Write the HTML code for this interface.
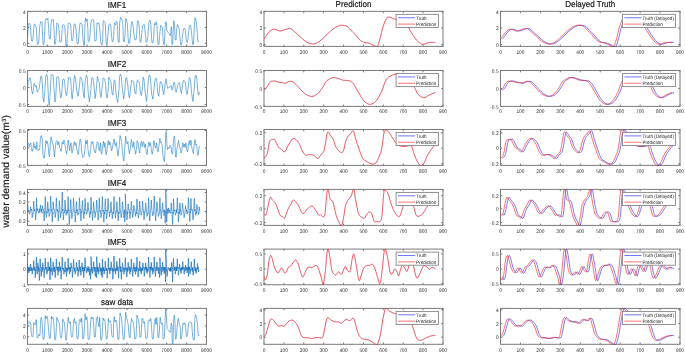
<!DOCTYPE html>
<html><head><meta charset="utf-8"><style>html,body{margin:0;padding:0;background:#fff;overflow:hidden}svg{display:block;will-change:transform}</style></head><body>
<svg width="685" height="353" viewBox="0 0 685 353" font-family="'Liberation Sans', sans-serif" text-rendering="geometricPrecision">
<rect width="685" height="353" fill="#fff"/>
<defs>
<clipPath id="c00"><rect x="27.1" y="10.95" width="179.8" height="35.85"/></clipPath>
<clipPath id="c01"><rect x="27.1" y="70.1" width="179.8" height="36.7"/></clipPath>
<clipPath id="c02"><rect x="27.1" y="129.1" width="179.8" height="36.7"/></clipPath>
<clipPath id="c03"><rect x="27.1" y="189" width="179.8" height="36.8"/></clipPath>
<clipPath id="c04"><rect x="27.1" y="248.7" width="179.8" height="36.45"/></clipPath>
<clipPath id="c05"><rect x="27.1" y="308" width="179.8" height="36.7"/></clipPath>
<clipPath id="c10"><rect x="263.6" y="10.95" width="179.8" height="35.85"/></clipPath>
<clipPath id="c11"><rect x="263.6" y="70.1" width="179.8" height="36.7"/></clipPath>
<clipPath id="c12"><rect x="263.6" y="129.1" width="179.8" height="36.7"/></clipPath>
<clipPath id="c13"><rect x="263.6" y="189" width="179.8" height="36.8"/></clipPath>
<clipPath id="c14"><rect x="263.6" y="248.7" width="179.8" height="36.45"/></clipPath>
<clipPath id="c15"><rect x="263.6" y="308" width="179.8" height="36.7"/></clipPath>
<clipPath id="c20"><rect x="500.1" y="10.95" width="180.3" height="35.85"/></clipPath>
<clipPath id="c21"><rect x="500.1" y="70.1" width="180.3" height="36.7"/></clipPath>
<clipPath id="c22"><rect x="500.1" y="129.1" width="180.3" height="36.7"/></clipPath>
<clipPath id="c23"><rect x="500.1" y="189" width="180.3" height="36.8"/></clipPath>
<clipPath id="c24"><rect x="500.1" y="248.7" width="180.3" height="36.45"/></clipPath>
<clipPath id="c25"><rect x="500.1" y="308" width="180.3" height="36.7"/></clipPath>
</defs>
<g stroke="#404040" stroke-width="0.7"><line x1="27.5" y1="46.4" x2="27.5" y2="44.6"/><line x1="27.5" y1="11.35" x2="27.5" y2="13.15"/><line x1="47.39" y1="46.4" x2="47.39" y2="44.6"/><line x1="47.39" y1="11.35" x2="47.39" y2="13.15"/><line x1="67.28" y1="46.4" x2="67.28" y2="44.6"/><line x1="67.28" y1="11.35" x2="67.28" y2="13.15"/><line x1="87.17" y1="46.4" x2="87.17" y2="44.6"/><line x1="87.17" y1="11.35" x2="87.17" y2="13.15"/><line x1="107.06" y1="46.4" x2="107.06" y2="44.6"/><line x1="107.06" y1="11.35" x2="107.06" y2="13.15"/><line x1="126.94" y1="46.4" x2="126.94" y2="44.6"/><line x1="126.94" y1="11.35" x2="126.94" y2="13.15"/><line x1="146.83" y1="46.4" x2="146.83" y2="44.6"/><line x1="146.83" y1="11.35" x2="146.83" y2="13.15"/><line x1="166.72" y1="46.4" x2="166.72" y2="44.6"/><line x1="166.72" y1="11.35" x2="166.72" y2="13.15"/><line x1="186.61" y1="46.4" x2="186.61" y2="44.6"/><line x1="186.61" y1="11.35" x2="186.61" y2="13.15"/><line x1="206.5" y1="46.4" x2="206.5" y2="44.6"/><line x1="206.5" y1="11.35" x2="206.5" y2="13.15"/><line x1="27.5" y1="43.4" x2="29.3" y2="43.4"/><line x1="206.5" y1="43.4" x2="204.7" y2="43.4"/><line x1="27.5" y1="27.4" x2="29.3" y2="27.4"/><line x1="206.5" y1="27.4" x2="204.7" y2="27.4"/><line x1="27.5" y1="11.35" x2="29.3" y2="11.35"/><line x1="206.5" y1="11.35" x2="204.7" y2="11.35"/></g>
<rect x="27.5" y="11.35" width="179" height="35.05" fill="none" stroke="#7a7a7a" stroke-width="1"/>
<text transform="translate(27.5,54.15) scale(1,1.08)" font-size="4.85" fill="#303030" text-anchor="middle">0</text><text transform="translate(47.39,54.15) scale(1,1.08)" font-size="4.85" fill="#303030" text-anchor="middle">1000</text><text transform="translate(67.28,54.15) scale(1,1.08)" font-size="4.85" fill="#303030" text-anchor="middle">2000</text><text transform="translate(87.17,54.15) scale(1,1.08)" font-size="4.85" fill="#303030" text-anchor="middle">3000</text><text transform="translate(107.06,54.15) scale(1,1.08)" font-size="4.85" fill="#303030" text-anchor="middle">4000</text><text transform="translate(126.94,54.15) scale(1,1.08)" font-size="4.85" fill="#303030" text-anchor="middle">5000</text><text transform="translate(146.83,54.15) scale(1,1.08)" font-size="4.85" fill="#303030" text-anchor="middle">6000</text><text transform="translate(166.72,54.15) scale(1,1.08)" font-size="4.85" fill="#303030" text-anchor="middle">7000</text><text transform="translate(186.61,54.15) scale(1,1.08)" font-size="4.85" fill="#303030" text-anchor="middle">8000</text><text transform="translate(206.5,54.15) scale(1,1.08)" font-size="4.85" fill="#303030" text-anchor="middle">9000</text><text transform="translate(25.6,45.55) scale(1,1.08)" font-size="4.85" fill="#303030" text-anchor="end">0</text><text transform="translate(25.6,29.55) scale(1,1.08)" font-size="4.85" fill="#303030" text-anchor="end">2</text><text transform="translate(25.6,13.5) scale(1,1.08)" font-size="4.85" fill="#303030" text-anchor="end">4</text>
<g clip-path="url(#c00)"><path d="M27.6,36.6 L28.4,23.9 L29.5,23.4 L30.4,25.6 L31.3,38.8 L31.7,41 L32.5,41 L32.9,39.9 L34,25.6 L34.6,23.9 L35.4,26.1 L36.2,26.7 L37,39.9 L37.3,44.4 L38,44.4 L38.7,42.1 L39.8,25.6 L40.9,21.2 L42,22.3 L42.8,39.9 L43.15,44.6 L43.85,44.6 L44.2,41 L45.3,19.5 L46.1,18.4 L46.6,19.5 L47.4,19.5 L47.9,18.4 L48.7,28.9 L49.2,38.3 L49.7,38.8 L50.5,38.8 L50.9,25.6 L51.6,19.5 L52.1,20 L52.9,20 L53.4,19.5 L54.2,34.4 L54.6,44.1 L55.4,44.1 L55.8,41 L56.9,22.8 L58,23.9 L58.9,27.8 L59.7,39.9 L60.1,42.1 L60.9,42.1 L61.4,41 L62.5,25 L63.6,24.5 L64.7,25.6 L65.6,38.8 L65.95,46 L66.7,46 L67.1,41 L68.2,23.4 L69.1,23.1 L70,23.4 L70.8,25.6 L71.5,38.8 L71.85,40.5 L72.6,40.5 L73,38.8 L74.1,23.9 L75.2,24.5 L76,28.9 L77,42.1 L77.35,43.8 L78.1,43.8 L78.5,40 L79.9,23.4 L81.2,23.1 L82.1,24.5 L82.9,37.7 L83.6,45 L84.4,45 L85.1,20 L85.7,17.8 L86.05,21.2 L86.75,21.2 L87.1,19 L87.9,30 L88.15,41.6 L88.8,41.6 L89.5,41 L90.6,25.6 L91.5,20 L92.8,19.5 L93.7,20 L94.5,36.6 L94.9,41 L95.7,41 L96.2,40 L97,22.8 L97.7,23.4 L98.5,23.4 L98.9,22.8 L99.7,28.9 L100.8,42.1 L101.3,44.9 L102.1,44.9 L102.6,41 L103.3,20.6 L104.4,21.7 L105.2,22.8 L105.9,37.7 L106.3,44.4 L107.1,44.4 L107.8,36.6 L108.9,24.5 L110,23.9 L110.7,24.5 L111.6,36.6 L112.1,41.6 L112.9,41.6 L113.4,40 L114.4,22.8 L115.1,24.5 L115.9,24.5 L116.3,21.2 L117.2,22.3 L118,39.9 L118.4,42.1 L119.2,42.1 L119.6,23.4 L120.5,17 L121.6,19 L122.7,21.2 L123.4,39.9 L123.7,41.6 L124.4,41.6 L124.9,36.6 L125.8,18.4 L126.5,20 L127.3,23.4 L128,36.6 L128.7,43.3 L129.5,43.3 L130.2,38.8 L131.3,22.3 L132.4,21.7 L133.3,27.8 L134.3,37.7 L135,39.9 L135.8,39.9 L136.5,37.7 L137.4,20.6 L138.4,21.2 L139,23.9 L139.8,38.8 L140.2,42.1 L141,42.1 L141.7,34.4 L142.6,25.6 L143.7,24.5 L144.2,24.5 L145.1,31.1 L145.9,41 L146.25,42.1 L147,42.1 L147.7,37.7 L148.9,22.3 L150,20 L150.8,24.5 L151.7,39.9 L152.1,42.7 L152.9,42.7 L153.6,38.8 L154.4,23.4 L154.9,24.5 L155.7,24.5 L156.1,21.7 L156.9,25.6 L157.7,41 L158.2,44.4 L159,44.4 L159.5,36.6 L160.6,25.6 L161.7,26.1 L162.4,27.8 L163.2,39.9 L163.55,44.4 L164.3,44.4 L164.7,37.7 L165.4,22.3 L166.3,21.7 L166.9,31.1 L168,32.2 L169.1,33.3 L169.8,35.5 L170.6,35.5 L171,27.8 L171.6,26.7 L171.95,44.4 L172.7,44.4 L173.2,31.1 L173.8,20.6 L174.6,25.6 L175.1,38.8 L175.4,40 L176.1,40 L176.5,31.1 L177.4,24.5 L178.5,26.7 L179.3,28.9 L180.1,39.9 L180.8,44.9 L181.6,44.9 L182.3,37.7 L183.4,28.9 L184.5,28.3 L185.3,30 L186.2,39.9 L186.7,42.1 L187.5,42.1 L188.2,36.6 L189.3,26.7 L190.3,25 L191.2,28.9 L192.3,41 L192.65,44.4 L193.4,44.4 L193.9,36.6 L194.8,17.8 L195.9,19 L196.7,25.6 L197.6,38.8 L198,41.6 L198.8,41.6 L199.2,41" fill="none" stroke="#3089cb" stroke-width="0.65" stroke-linejoin="round"/></g>
<g stroke="#404040" stroke-width="0.7"><line x1="264" y1="46.4" x2="264" y2="44.6"/><line x1="264" y1="11.35" x2="264" y2="13.15"/><line x1="283.89" y1="46.4" x2="283.89" y2="44.6"/><line x1="283.89" y1="11.35" x2="283.89" y2="13.15"/><line x1="303.78" y1="46.4" x2="303.78" y2="44.6"/><line x1="303.78" y1="11.35" x2="303.78" y2="13.15"/><line x1="323.67" y1="46.4" x2="323.67" y2="44.6"/><line x1="323.67" y1="11.35" x2="323.67" y2="13.15"/><line x1="343.56" y1="46.4" x2="343.56" y2="44.6"/><line x1="343.56" y1="11.35" x2="343.56" y2="13.15"/><line x1="363.44" y1="46.4" x2="363.44" y2="44.6"/><line x1="363.44" y1="11.35" x2="363.44" y2="13.15"/><line x1="383.33" y1="46.4" x2="383.33" y2="44.6"/><line x1="383.33" y1="11.35" x2="383.33" y2="13.15"/><line x1="403.22" y1="46.4" x2="403.22" y2="44.6"/><line x1="403.22" y1="11.35" x2="403.22" y2="13.15"/><line x1="423.11" y1="46.4" x2="423.11" y2="44.6"/><line x1="423.11" y1="11.35" x2="423.11" y2="13.15"/><line x1="443" y1="46.4" x2="443" y2="44.6"/><line x1="443" y1="11.35" x2="443" y2="13.15"/><line x1="264" y1="44.6" x2="265.8" y2="44.6"/><line x1="443" y1="44.6" x2="441.2" y2="44.6"/><line x1="264" y1="28" x2="265.8" y2="28"/><line x1="443" y1="28" x2="441.2" y2="28"/><line x1="264" y1="11.35" x2="265.8" y2="11.35"/><line x1="443" y1="11.35" x2="441.2" y2="11.35"/></g>
<rect x="264" y="11.35" width="179" height="35.05" fill="none" stroke="#7a7a7a" stroke-width="1"/>
<text transform="translate(264,54.15) scale(1,1.08)" font-size="4.85" fill="#303030" text-anchor="middle">0</text><text transform="translate(283.89,54.15) scale(1,1.08)" font-size="4.85" fill="#303030" text-anchor="middle">100</text><text transform="translate(303.78,54.15) scale(1,1.08)" font-size="4.85" fill="#303030" text-anchor="middle">200</text><text transform="translate(323.67,54.15) scale(1,1.08)" font-size="4.85" fill="#303030" text-anchor="middle">300</text><text transform="translate(343.56,54.15) scale(1,1.08)" font-size="4.85" fill="#303030" text-anchor="middle">400</text><text transform="translate(363.44,54.15) scale(1,1.08)" font-size="4.85" fill="#303030" text-anchor="middle">500</text><text transform="translate(383.33,54.15) scale(1,1.08)" font-size="4.85" fill="#303030" text-anchor="middle">600</text><text transform="translate(403.22,54.15) scale(1,1.08)" font-size="4.85" fill="#303030" text-anchor="middle">700</text><text transform="translate(423.11,54.15) scale(1,1.08)" font-size="4.85" fill="#303030" text-anchor="middle">800</text><text transform="translate(443,54.15) scale(1,1.08)" font-size="4.85" fill="#303030" text-anchor="middle">900</text><text transform="translate(262.1,46.75) scale(1,1.08)" font-size="4.85" fill="#303030" text-anchor="end">0</text><text transform="translate(262.1,30.15) scale(1,1.08)" font-size="4.85" fill="#303030" text-anchor="end">2</text><text transform="translate(262.1,13.5) scale(1,1.08)" font-size="4.85" fill="#303030" text-anchor="end">4</text>
<g clip-path="url(#c10)"><path d="M264,39.2 C264.42,38.58 265.5,36.83 266.5,35.5 C267.5,34.17 268.88,32.25 270,31.2 C271.12,30.15 272.12,29.43 273.2,29.2 C274.28,28.97 275.35,29.48 276.5,29.8 C277.65,30.12 278.85,31.07 280.1,31.1 C281.35,31.13 282.47,30.45 284,30 C285.53,29.55 287.97,28.48 289.3,28.4 C290.63,28.32 290.88,28.73 292,29.5 C293.12,30.27 294.62,31.77 296,33 C297.38,34.23 298.8,35.57 300.3,36.9 C301.8,38.23 303.55,39.95 305,41 C306.45,42.05 307.77,42.7 309,43.2 C310.23,43.7 311.23,43.97 312.4,44 C313.57,44.03 314.82,43.85 316,43.4 C317.18,42.95 318.32,42.17 319.5,41.3 C320.68,40.43 321.68,39.5 323.1,38.2 C324.52,36.9 326.43,34.95 328,33.5 C329.57,32.05 331,30.67 332.5,29.5 C334,28.33 335.55,27.22 337,26.5 C338.45,25.78 339.97,25.37 341.2,25.2 C342.43,25.03 343.35,25.28 344.4,25.5 C345.45,25.72 346.63,25.93 347.5,26.5 C348.37,27.07 348.37,27.62 349.6,28.9 C350.83,30.18 353.28,32.45 354.9,34.2 C356.52,35.95 357.83,38.03 359.3,39.4 C360.77,40.77 362.25,41.82 363.7,42.4 C365.15,42.98 366.7,42.58 368,42.9 C369.3,43.22 370.18,43.68 371.5,44.3 C372.82,44.92 374.87,46.33 375.9,46.6 C376.93,46.87 376.97,47.38 377.7,45.9 C378.43,44.42 379.43,40.82 380.3,37.7 C381.17,34.58 381.88,30.42 382.9,27.2 C383.92,23.98 385.32,20.1 386.4,18.4 C387.48,16.7 388.37,17 389.4,17 C390.43,17 391.48,17.97 392.6,18.4 C393.72,18.83 394.87,19.25 396.1,19.6 C397.33,19.95 398.68,20.02 400,20.5 C401.32,20.98 402.62,21.33 404,22.5 C405.38,23.67 407,25.7 408.3,27.5 C409.6,29.3 410.77,31.68 411.8,33.3 C412.83,34.92 413.62,35.98 414.5,37.2 C415.38,38.42 416.03,39.5 417.1,40.6 C418.17,41.7 419.73,43.22 420.9,43.8 C422.07,44.38 422.98,44.25 424.1,44.1 C425.22,43.95 426.43,43.18 427.6,42.9 C428.77,42.62 429.78,42.48 431.1,42.4 C432.42,42.32 434.77,42.4 435.5,42.4" fill="none" stroke="#8080ff" stroke-width="0.3" opacity="0.6"/><path d="M264,39.2 C264.42,38.58 265.5,36.83 266.5,35.5 C267.5,34.17 268.88,32.25 270,31.2 C271.12,30.15 272.12,29.43 273.2,29.2 C274.28,28.97 275.35,29.48 276.5,29.8 C277.65,30.12 278.85,31.07 280.1,31.1 C281.35,31.13 282.47,30.45 284,30 C285.53,29.55 287.97,28.48 289.3,28.4 C290.63,28.32 290.88,28.73 292,29.5 C293.12,30.27 294.62,31.77 296,33 C297.38,34.23 298.8,35.57 300.3,36.9 C301.8,38.23 303.55,39.95 305,41 C306.45,42.05 307.77,42.7 309,43.2 C310.23,43.7 311.23,43.97 312.4,44 C313.57,44.03 314.82,43.85 316,43.4 C317.18,42.95 318.32,42.17 319.5,41.3 C320.68,40.43 321.68,39.5 323.1,38.2 C324.52,36.9 326.43,34.95 328,33.5 C329.57,32.05 331,30.67 332.5,29.5 C334,28.33 335.55,27.22 337,26.5 C338.45,25.78 339.97,25.37 341.2,25.2 C342.43,25.03 343.35,25.28 344.4,25.5 C345.45,25.72 346.63,25.93 347.5,26.5 C348.37,27.07 348.37,27.62 349.6,28.9 C350.83,30.18 353.28,32.45 354.9,34.2 C356.52,35.95 357.83,38.03 359.3,39.4 C360.77,40.77 362.25,41.82 363.7,42.4 C365.15,42.98 366.7,42.58 368,42.9 C369.3,43.22 370.18,43.68 371.5,44.3 C372.82,44.92 374.87,46.33 375.9,46.6 C376.93,46.87 376.97,47.38 377.7,45.9 C378.43,44.42 379.43,40.82 380.3,37.7 C381.17,34.58 381.88,30.42 382.9,27.2 C383.92,23.98 385.32,20.1 386.4,18.4 C387.48,16.7 388.37,17 389.4,17 C390.43,17 391.48,17.97 392.6,18.4 C393.72,18.83 394.87,19.25 396.1,19.6 C397.33,19.95 398.68,20.02 400,20.5 C401.32,20.98 402.62,21.33 404,22.5 C405.38,23.67 407,25.7 408.3,27.5 C409.6,29.3 410.77,31.68 411.8,33.3 C412.83,34.92 413.62,35.98 414.5,37.2 C415.38,38.42 416.03,39.5 417.1,40.6 C418.17,41.7 419.73,43.22 420.9,43.8 C422.07,44.38 422.98,44.25 424.1,44.1 C425.22,43.95 426.43,43.18 427.6,42.9 C428.77,42.62 429.78,42.48 431.1,42.4 C432.42,42.32 434.77,42.4 435.5,42.4" fill="none" stroke="#f42424" stroke-width="0.7"/></g>
<rect x="396.1" y="14.35" width="42.3" height="13.1" fill="#fff" stroke="#808080" stroke-width="0.85"/>
<line x1="398" y1="17.75" x2="415.1" y2="17.75" stroke="#3a3af5" stroke-width="0.7"/>
<text transform="translate(416.1,19.5) scale(1,1.08)" font-size="4.55" fill="#222">Truth</text>
<line x1="398" y1="24.1" x2="415.1" y2="24.1" stroke="#f03a3a" stroke-width="0.7"/>
<text transform="translate(416.1,25.85) scale(1,1.08)" font-size="4.55" fill="#222">Prediction</text>
<g stroke="#404040" stroke-width="0.7"><line x1="500.5" y1="46.4" x2="500.5" y2="44.6"/><line x1="500.5" y1="11.35" x2="500.5" y2="13.15"/><line x1="520.44" y1="46.4" x2="520.44" y2="44.6"/><line x1="520.44" y1="11.35" x2="520.44" y2="13.15"/><line x1="540.39" y1="46.4" x2="540.39" y2="44.6"/><line x1="540.39" y1="11.35" x2="540.39" y2="13.15"/><line x1="560.33" y1="46.4" x2="560.33" y2="44.6"/><line x1="560.33" y1="11.35" x2="560.33" y2="13.15"/><line x1="580.28" y1="46.4" x2="580.28" y2="44.6"/><line x1="580.28" y1="11.35" x2="580.28" y2="13.15"/><line x1="600.22" y1="46.4" x2="600.22" y2="44.6"/><line x1="600.22" y1="11.35" x2="600.22" y2="13.15"/><line x1="620.17" y1="46.4" x2="620.17" y2="44.6"/><line x1="620.17" y1="11.35" x2="620.17" y2="13.15"/><line x1="640.11" y1="46.4" x2="640.11" y2="44.6"/><line x1="640.11" y1="11.35" x2="640.11" y2="13.15"/><line x1="660.06" y1="46.4" x2="660.06" y2="44.6"/><line x1="660.06" y1="11.35" x2="660.06" y2="13.15"/><line x1="680" y1="46.4" x2="680" y2="44.6"/><line x1="680" y1="11.35" x2="680" y2="13.15"/><line x1="500.5" y1="44.6" x2="502.3" y2="44.6"/><line x1="680" y1="44.6" x2="678.2" y2="44.6"/><line x1="500.5" y1="28" x2="502.3" y2="28"/><line x1="680" y1="28" x2="678.2" y2="28"/><line x1="500.5" y1="11.35" x2="502.3" y2="11.35"/><line x1="680" y1="11.35" x2="678.2" y2="11.35"/></g>
<rect x="500.5" y="11.35" width="179.5" height="35.05" fill="none" stroke="#7a7a7a" stroke-width="1"/>
<text transform="translate(500.5,54.15) scale(1,1.08)" font-size="4.85" fill="#303030" text-anchor="middle">0</text><text transform="translate(520.44,54.15) scale(1,1.08)" font-size="4.85" fill="#303030" text-anchor="middle">100</text><text transform="translate(540.39,54.15) scale(1,1.08)" font-size="4.85" fill="#303030" text-anchor="middle">200</text><text transform="translate(560.33,54.15) scale(1,1.08)" font-size="4.85" fill="#303030" text-anchor="middle">300</text><text transform="translate(580.28,54.15) scale(1,1.08)" font-size="4.85" fill="#303030" text-anchor="middle">400</text><text transform="translate(600.22,54.15) scale(1,1.08)" font-size="4.85" fill="#303030" text-anchor="middle">500</text><text transform="translate(620.17,54.15) scale(1,1.08)" font-size="4.85" fill="#303030" text-anchor="middle">600</text><text transform="translate(640.11,54.15) scale(1,1.08)" font-size="4.85" fill="#303030" text-anchor="middle">700</text><text transform="translate(660.06,54.15) scale(1,1.08)" font-size="4.85" fill="#303030" text-anchor="middle">800</text><text transform="translate(680,54.15) scale(1,1.08)" font-size="4.85" fill="#303030" text-anchor="middle">900</text><text transform="translate(498.6,46.75) scale(1,1.08)" font-size="4.85" fill="#303030" text-anchor="end">0</text><text transform="translate(498.6,30.15) scale(1,1.08)" font-size="4.85" fill="#303030" text-anchor="end">2</text><text transform="translate(498.6,13.5) scale(1,1.08)" font-size="4.85" fill="#303030" text-anchor="end">4</text>
<g clip-path="url(#c20)"><path d="M502.5,39.2 C502.92,38.58 504,36.83 505,35.5 C506,34.17 507.38,32.25 508.5,31.2 C509.62,30.15 510.62,29.43 511.7,29.2 C512.78,28.97 513.85,29.48 515,29.8 C516.15,30.12 517.35,31.07 518.6,31.1 C519.85,31.13 520.97,30.45 522.5,30 C524.03,29.55 526.47,28.48 527.8,28.4 C529.13,28.32 529.38,28.73 530.5,29.5 C531.62,30.27 533.12,31.77 534.5,33 C535.88,34.23 537.3,35.57 538.8,36.9 C540.3,38.23 542.05,39.95 543.5,41 C544.95,42.05 546.27,42.7 547.5,43.2 C548.73,43.7 549.73,43.97 550.9,44 C552.07,44.03 553.32,43.85 554.5,43.4 C555.68,42.95 556.82,42.17 558,41.3 C559.18,40.43 560.18,39.5 561.6,38.2 C563.02,36.9 564.93,34.95 566.5,33.5 C568.07,32.05 569.5,30.67 571,29.5 C572.5,28.33 574.05,27.22 575.5,26.5 C576.95,25.78 578.47,25.37 579.7,25.2 C580.93,25.03 581.85,25.28 582.9,25.5 C583.95,25.72 585.13,25.93 586,26.5 C586.87,27.07 586.87,27.62 588.1,28.9 C589.33,30.18 591.78,32.45 593.4,34.2 C595.02,35.95 596.33,38.03 597.8,39.4 C599.27,40.77 600.75,41.82 602.2,42.4 C603.65,42.98 605.2,42.58 606.5,42.9 C607.8,43.22 608.68,43.68 610,44.3 C611.32,44.92 613.37,46.33 614.4,46.6 C615.43,46.87 615.47,47.38 616.2,45.9 C616.93,44.42 617.93,40.82 618.8,37.7 C619.67,34.58 620.38,30.42 621.4,27.2 C622.42,23.98 623.82,20.1 624.9,18.4 C625.98,16.7 626.87,17 627.9,17 C628.93,17 629.98,17.97 631.1,18.4 C632.22,18.83 633.37,19.25 634.6,19.6 C635.83,19.95 637.18,20.02 638.5,20.5 C639.82,20.98 641.12,21.33 642.5,22.5 C643.88,23.67 645.5,25.7 646.8,27.5 C648.1,29.3 649.27,31.68 650.3,33.3 C651.33,34.92 652.12,35.98 653,37.2 C653.88,38.42 654.53,39.5 655.6,40.6 C656.67,41.7 658.23,43.22 659.4,43.8 C660.57,44.38 661.48,44.25 662.6,44.1 C663.72,43.95 664.93,43.18 666.1,42.9 C667.27,42.62 668.28,42.48 669.6,42.4 C670.92,42.32 673.27,42.4 674,42.4" fill="none" stroke="#3434f4" stroke-width="0.66"/><path d="M500.5,39.2 C500.92,38.58 502,36.83 503,35.5 C504,34.17 505.38,32.25 506.5,31.2 C507.62,30.15 508.62,29.43 509.7,29.2 C510.78,28.97 511.85,29.48 513,29.8 C514.15,30.12 515.35,31.07 516.6,31.1 C517.85,31.13 518.97,30.45 520.5,30 C522.03,29.55 524.47,28.48 525.8,28.4 C527.13,28.32 527.38,28.73 528.5,29.5 C529.62,30.27 531.12,31.77 532.5,33 C533.88,34.23 535.3,35.57 536.8,36.9 C538.3,38.23 540.05,39.95 541.5,41 C542.95,42.05 544.27,42.7 545.5,43.2 C546.73,43.7 547.73,43.97 548.9,44 C550.07,44.03 551.32,43.85 552.5,43.4 C553.68,42.95 554.82,42.17 556,41.3 C557.18,40.43 558.18,39.5 559.6,38.2 C561.02,36.9 562.93,34.95 564.5,33.5 C566.07,32.05 567.5,30.67 569,29.5 C570.5,28.33 572.05,27.22 573.5,26.5 C574.95,25.78 576.47,25.37 577.7,25.2 C578.93,25.03 579.85,25.28 580.9,25.5 C581.95,25.72 583.13,25.93 584,26.5 C584.87,27.07 584.87,27.62 586.1,28.9 C587.33,30.18 589.78,32.45 591.4,34.2 C593.02,35.95 594.33,38.03 595.8,39.4 C597.27,40.77 598.75,41.82 600.2,42.4 C601.65,42.98 603.2,42.58 604.5,42.9 C605.8,43.22 606.68,43.68 608,44.3 C609.32,44.92 611.37,46.33 612.4,46.6 C613.43,46.87 613.47,47.38 614.2,45.9 C614.93,44.42 615.93,40.82 616.8,37.7 C617.67,34.58 618.38,30.42 619.4,27.2 C620.42,23.98 621.82,20.1 622.9,18.4 C623.98,16.7 624.87,17 625.9,17 C626.93,17 627.98,17.97 629.1,18.4 C630.22,18.83 631.37,19.25 632.6,19.6 C633.83,19.95 635.18,20.02 636.5,20.5 C637.82,20.98 639.12,21.33 640.5,22.5 C641.88,23.67 643.5,25.7 644.8,27.5 C646.1,29.3 647.27,31.68 648.3,33.3 C649.33,34.92 650.12,35.98 651,37.2 C651.88,38.42 652.53,39.5 653.6,40.6 C654.67,41.7 656.23,43.22 657.4,43.8 C658.57,44.38 659.48,44.25 660.6,44.1 C661.72,43.95 662.93,43.18 664.1,42.9 C665.27,42.62 666.28,42.48 667.6,42.4 C668.92,42.32 671.27,42.4 672,42.4" fill="none" stroke="#f42424" stroke-width="0.66"/></g>
<rect x="622.5" y="14.35" width="52.9" height="13.1" fill="#fff" stroke="#808080" stroke-width="0.85"/>
<line x1="624.4" y1="17.75" x2="641.5" y2="17.75" stroke="#3a3af5" stroke-width="0.7"/>
<text transform="translate(642.5,19.5) scale(1,1.08)" font-size="4.55" fill="#222">Truth (Delayed)</text>
<line x1="624.4" y1="24.1" x2="641.5" y2="24.1" stroke="#f03a3a" stroke-width="0.7"/>
<text transform="translate(642.5,25.85) scale(1,1.08)" font-size="4.55" fill="#222">Prediction</text>
<g stroke="#404040" stroke-width="0.7"><line x1="27.5" y1="106.4" x2="27.5" y2="104.6"/><line x1="27.5" y1="70.5" x2="27.5" y2="72.3"/><line x1="47.39" y1="106.4" x2="47.39" y2="104.6"/><line x1="47.39" y1="70.5" x2="47.39" y2="72.3"/><line x1="67.28" y1="106.4" x2="67.28" y2="104.6"/><line x1="67.28" y1="70.5" x2="67.28" y2="72.3"/><line x1="87.17" y1="106.4" x2="87.17" y2="104.6"/><line x1="87.17" y1="70.5" x2="87.17" y2="72.3"/><line x1="107.06" y1="106.4" x2="107.06" y2="104.6"/><line x1="107.06" y1="70.5" x2="107.06" y2="72.3"/><line x1="126.94" y1="106.4" x2="126.94" y2="104.6"/><line x1="126.94" y1="70.5" x2="126.94" y2="72.3"/><line x1="146.83" y1="106.4" x2="146.83" y2="104.6"/><line x1="146.83" y1="70.5" x2="146.83" y2="72.3"/><line x1="166.72" y1="106.4" x2="166.72" y2="104.6"/><line x1="166.72" y1="70.5" x2="166.72" y2="72.3"/><line x1="186.61" y1="106.4" x2="186.61" y2="104.6"/><line x1="186.61" y1="70.5" x2="186.61" y2="72.3"/><line x1="206.5" y1="106.4" x2="206.5" y2="104.6"/><line x1="206.5" y1="70.5" x2="206.5" y2="72.3"/><line x1="27.5" y1="104.5" x2="29.3" y2="104.5"/><line x1="206.5" y1="104.5" x2="204.7" y2="104.5"/><line x1="27.5" y1="87.5" x2="29.3" y2="87.5"/><line x1="206.5" y1="87.5" x2="204.7" y2="87.5"/><line x1="27.5" y1="70.5" x2="29.3" y2="70.5"/><line x1="206.5" y1="70.5" x2="204.7" y2="70.5"/></g>
<rect x="27.5" y="70.5" width="179" height="35.9" fill="none" stroke="#7a7a7a" stroke-width="1"/>
<text transform="translate(27.5,113.3) scale(1,1.08)" font-size="4.85" fill="#303030" text-anchor="middle">0</text><text transform="translate(47.39,113.3) scale(1,1.08)" font-size="4.85" fill="#303030" text-anchor="middle">1000</text><text transform="translate(67.28,113.3) scale(1,1.08)" font-size="4.85" fill="#303030" text-anchor="middle">2000</text><text transform="translate(87.17,113.3) scale(1,1.08)" font-size="4.85" fill="#303030" text-anchor="middle">3000</text><text transform="translate(107.06,113.3) scale(1,1.08)" font-size="4.85" fill="#303030" text-anchor="middle">4000</text><text transform="translate(126.94,113.3) scale(1,1.08)" font-size="4.85" fill="#303030" text-anchor="middle">5000</text><text transform="translate(146.83,113.3) scale(1,1.08)" font-size="4.85" fill="#303030" text-anchor="middle">6000</text><text transform="translate(166.72,113.3) scale(1,1.08)" font-size="4.85" fill="#303030" text-anchor="middle">7000</text><text transform="translate(186.61,113.3) scale(1,1.08)" font-size="4.85" fill="#303030" text-anchor="middle">8000</text><text transform="translate(206.5,113.3) scale(1,1.08)" font-size="4.85" fill="#303030" text-anchor="middle">9000</text><text transform="translate(25.6,106.65) scale(1,1.08)" font-size="4.85" fill="#303030" text-anchor="end">-0.5</text><text transform="translate(25.6,89.65) scale(1,1.08)" font-size="4.85" fill="#303030" text-anchor="end">0</text><text transform="translate(25.6,72.65) scale(1,1.08)" font-size="4.85" fill="#303030" text-anchor="end">0.5</text>
<g clip-path="url(#c01)"><path d="M27.4,90.6 L28,82.7 L29.2,78.8 L30,77.6 L30.8,80.5 L31.7,90.6 L32.6,94 L33.4,89.5 L34.2,83.3 L34.8,85 L35.6,86.7 L36.2,85.5 L36.8,89.5 L37.3,92.3 L38.2,90.1 L39,89.5 L39.8,83.8 L40.7,76.5 L41.6,75.9 L42.4,85 L43,98.6 L43.8,102 L44.7,92.9 L45.8,75.9 L46.7,74.2 L47.5,77.1 L48.4,97.4 L49.2,105.4 L50.1,94 L51.1,75.4 L52,74.2 L53.2,76.5 L54.1,90.6 L54.9,102 L55.7,97.4 L56.8,77.1 L57.9,76.5 L58.8,78.2 L59.7,90.6 L60.9,98 L61.7,94 L62.8,79.3 L63.7,78.8 L64.5,80.5 L65.4,90.6 L66.5,95.7 L67.3,90.6 L68.5,77.6 L69.6,77.1 L70.7,79.3 L71.5,94 L72.2,99.1 L73.3,88.4 L74.5,75.4 L75.6,78.2 L76.7,90.6 L78.1,96.3 L79.2,88.4 L80.3,77.1 L81.5,78.2 L82.4,82.7 L83.5,95.2 L84.3,98 L85.1,81.6 L86.3,75.4 L87.2,77.1 L88.3,94 L89.4,102 L90.6,92.9 L91.7,78.2 L92.8,77.6 L94,86.1 L95.1,98.6 L96.2,90.6 L97.4,76.5 L98.5,80.5 L99.3,82.2 L100.1,92.9 L101,97.4 L102.1,88.4 L103.2,78.2 L104.4,78.8 L105.5,82.7 L106.4,96.3 L107.2,98 L108,90.6 L108.9,77.1 L110,79.3 L110.9,81.6 L112.1,94 L112.9,95.2 L113.7,85 L114.3,79.9 L115.1,81.6 L115.9,92.9 L116.8,98.6 L117.7,102.5 L118.9,90.6 L119.7,75.9 L120.5,74.2 L121.4,77.1 L122.5,90.6 L123.6,99.1 L124.8,90.6 L125.7,78.2 L126.6,77.6 L127.6,83.8 L128.7,95.2 L129.5,98 L130.4,90.6 L131.5,80.5 L132.9,81 L133.8,82.7 L134.9,92.9 L135.9,94 L136.6,85 L137.4,79.9 L138.6,81 L139.5,83.8 L140.6,94 L141.5,95.7 L142.6,85 L143.1,77.1 L144,79.3 L145.2,92.9 L146.5,101.4 L147.4,92.9 L148.6,77.1 L149.5,74.8 L150.5,78.2 L151.6,94 L152.8,99.1 L153.9,90.6 L155,79.3 L156.2,78.2 L156.9,81.6 L157.8,94 L158.8,96.3 L159.5,88.4 L160.3,81.6 L161.2,82.2 L162.2,83.8 L162.9,90.6 L163.7,94.6 L164.6,88.4 L165.5,80.5 L166.1,78.8 L166.9,85 L167.8,88.4 L168.9,87.2 L170.1,86.7 L171.2,85.5 L172,90.1 L172.8,88.4 L173.7,82.7 L174.6,82.2 L175.4,90.6 L176.2,92.3 L177.1,88.4 L178,83.8 L178.8,83.3 L179.6,82.7 L180.5,89.5 L181.4,93.5 L182.1,88.4 L183.3,80.5 L184.5,81 L185.2,81.6 L186.2,90.6 L187.1,94.6 L188.2,87.2 L189.3,77.6 L190.5,79.3 L191.6,92.9 L192.9,101.4 L194.1,90.6 L195.2,75.4 L196.3,75.9 L197.2,82.7 L198,94 L198.6,95.2 L199.5,91.8" fill="none" stroke="#3089cb" stroke-width="0.65" stroke-linejoin="round"/></g>
<g stroke="#404040" stroke-width="0.7"><line x1="264" y1="106.4" x2="264" y2="104.6"/><line x1="264" y1="70.5" x2="264" y2="72.3"/><line x1="283.89" y1="106.4" x2="283.89" y2="104.6"/><line x1="283.89" y1="70.5" x2="283.89" y2="72.3"/><line x1="303.78" y1="106.4" x2="303.78" y2="104.6"/><line x1="303.78" y1="70.5" x2="303.78" y2="72.3"/><line x1="323.67" y1="106.4" x2="323.67" y2="104.6"/><line x1="323.67" y1="70.5" x2="323.67" y2="72.3"/><line x1="343.56" y1="106.4" x2="343.56" y2="104.6"/><line x1="343.56" y1="70.5" x2="343.56" y2="72.3"/><line x1="363.44" y1="106.4" x2="363.44" y2="104.6"/><line x1="363.44" y1="70.5" x2="363.44" y2="72.3"/><line x1="383.33" y1="106.4" x2="383.33" y2="104.6"/><line x1="383.33" y1="70.5" x2="383.33" y2="72.3"/><line x1="403.22" y1="106.4" x2="403.22" y2="104.6"/><line x1="403.22" y1="70.5" x2="403.22" y2="72.3"/><line x1="423.11" y1="106.4" x2="423.11" y2="104.6"/><line x1="423.11" y1="70.5" x2="423.11" y2="72.3"/><line x1="443" y1="106.4" x2="443" y2="104.6"/><line x1="443" y1="70.5" x2="443" y2="72.3"/><line x1="264" y1="106.4" x2="265.8" y2="106.4"/><line x1="443" y1="106.4" x2="441.2" y2="106.4"/><line x1="264" y1="88.45" x2="265.8" y2="88.45"/><line x1="443" y1="88.45" x2="441.2" y2="88.45"/><line x1="264" y1="70.5" x2="265.8" y2="70.5"/><line x1="443" y1="70.5" x2="441.2" y2="70.5"/></g>
<rect x="264" y="70.5" width="179" height="35.9" fill="none" stroke="#7a7a7a" stroke-width="1"/>
<text transform="translate(264,113.3) scale(1,1.08)" font-size="4.85" fill="#303030" text-anchor="middle">0</text><text transform="translate(283.89,113.3) scale(1,1.08)" font-size="4.85" fill="#303030" text-anchor="middle">100</text><text transform="translate(303.78,113.3) scale(1,1.08)" font-size="4.85" fill="#303030" text-anchor="middle">200</text><text transform="translate(323.67,113.3) scale(1,1.08)" font-size="4.85" fill="#303030" text-anchor="middle">300</text><text transform="translate(343.56,113.3) scale(1,1.08)" font-size="4.85" fill="#303030" text-anchor="middle">400</text><text transform="translate(363.44,113.3) scale(1,1.08)" font-size="4.85" fill="#303030" text-anchor="middle">500</text><text transform="translate(383.33,113.3) scale(1,1.08)" font-size="4.85" fill="#303030" text-anchor="middle">600</text><text transform="translate(403.22,113.3) scale(1,1.08)" font-size="4.85" fill="#303030" text-anchor="middle">700</text><text transform="translate(423.11,113.3) scale(1,1.08)" font-size="4.85" fill="#303030" text-anchor="middle">800</text><text transform="translate(443,113.3) scale(1,1.08)" font-size="4.85" fill="#303030" text-anchor="middle">900</text><text transform="translate(262.1,108.55) scale(1,1.08)" font-size="4.85" fill="#303030" text-anchor="end">-0.5</text><text transform="translate(262.1,90.6) scale(1,1.08)" font-size="4.85" fill="#303030" text-anchor="end">0</text><text transform="translate(262.1,72.65) scale(1,1.08)" font-size="4.85" fill="#303030" text-anchor="end">0.5</text>
<g clip-path="url(#c11)"><path d="M264,90.1 C264.38,89.75 265.33,89.28 266.3,88 C267.27,86.72 268.77,83.53 269.8,82.4 C270.83,81.27 271.63,81.43 272.5,81.2 C273.37,80.97 273.85,80.8 275,81 C276.15,81.2 278.15,82.13 279.4,82.4 C280.65,82.67 281.53,82.45 282.5,82.6 C283.47,82.75 284.1,83.5 285.2,83.3 C286.3,83.1 287.87,81.67 289.1,81.4 C290.33,81.13 291.62,81.35 292.6,81.7 C293.58,82.05 294.13,82.73 295,83.5 C295.87,84.27 296.45,84.87 297.8,86.3 C299.15,87.73 301.63,90.7 303.1,92.1 C304.57,93.5 305.15,93.98 306.6,94.7 C308.05,95.42 310.05,96.48 311.8,96.4 C313.55,96.32 315.35,95.6 317.1,94.2 C318.85,92.8 320.85,90.05 322.3,88 C323.75,85.95 324.63,83.35 325.8,81.9 C326.97,80.45 328.12,80.03 329.3,79.3 C330.48,78.57 331.43,77.65 332.9,77.5 C334.37,77.35 336.5,77.97 338.1,78.4 C339.7,78.83 340.87,79.75 342.5,80.1 C344.13,80.45 346.48,80.27 347.9,80.5 C349.32,80.73 349.98,80.83 351,81.5 C352.02,82.17 352.92,82.97 354,84.5 C355.08,86.03 356.03,88.22 357.5,90.7 C358.97,93.18 361.33,97.37 362.8,99.4 C364.27,101.43 364.98,102.08 366.3,102.9 C367.62,103.72 369.1,104.58 370.7,104.3 C372.3,104.02 374.15,103.18 375.9,101.2 C377.65,99.22 379.73,95.47 381.2,92.4 C382.67,89.33 383.65,85.2 384.7,82.8 C385.75,80.4 386.48,79.17 387.5,78 C388.52,76.83 389.37,76.47 390.8,75.8 C392.23,75.13 394.57,74.22 396.1,74 C397.63,73.78 398.52,74 400,74.5 C401.48,75 403.33,75.75 405,77 C406.67,78.25 408.42,80.25 410,82 C411.58,83.75 413.17,85.47 414.5,87.5 C415.83,89.53 416.47,92.5 418,94.2 C419.53,95.9 421.82,97.57 423.7,97.7 C425.58,97.83 427.33,95.88 429.3,95 C431.27,94.12 434.47,92.83 435.5,92.4" fill="none" stroke="#8080ff" stroke-width="0.3" opacity="0.6"/><path d="M264,90.1 C264.38,89.75 265.33,89.28 266.3,88 C267.27,86.72 268.77,83.53 269.8,82.4 C270.83,81.27 271.63,81.43 272.5,81.2 C273.37,80.97 273.85,80.8 275,81 C276.15,81.2 278.15,82.13 279.4,82.4 C280.65,82.67 281.53,82.45 282.5,82.6 C283.47,82.75 284.1,83.5 285.2,83.3 C286.3,83.1 287.87,81.67 289.1,81.4 C290.33,81.13 291.62,81.35 292.6,81.7 C293.58,82.05 294.13,82.73 295,83.5 C295.87,84.27 296.45,84.87 297.8,86.3 C299.15,87.73 301.63,90.7 303.1,92.1 C304.57,93.5 305.15,93.98 306.6,94.7 C308.05,95.42 310.05,96.48 311.8,96.4 C313.55,96.32 315.35,95.6 317.1,94.2 C318.85,92.8 320.85,90.05 322.3,88 C323.75,85.95 324.63,83.35 325.8,81.9 C326.97,80.45 328.12,80.03 329.3,79.3 C330.48,78.57 331.43,77.65 332.9,77.5 C334.37,77.35 336.5,77.97 338.1,78.4 C339.7,78.83 340.87,79.75 342.5,80.1 C344.13,80.45 346.48,80.27 347.9,80.5 C349.32,80.73 349.98,80.83 351,81.5 C352.02,82.17 352.92,82.97 354,84.5 C355.08,86.03 356.03,88.22 357.5,90.7 C358.97,93.18 361.33,97.37 362.8,99.4 C364.27,101.43 364.98,102.08 366.3,102.9 C367.62,103.72 369.1,104.58 370.7,104.3 C372.3,104.02 374.15,103.18 375.9,101.2 C377.65,99.22 379.73,95.47 381.2,92.4 C382.67,89.33 383.65,85.2 384.7,82.8 C385.75,80.4 386.48,79.17 387.5,78 C388.52,76.83 389.37,76.47 390.8,75.8 C392.23,75.13 394.57,74.22 396.1,74 C397.63,73.78 398.52,74 400,74.5 C401.48,75 403.33,75.75 405,77 C406.67,78.25 408.42,80.25 410,82 C411.58,83.75 413.17,85.47 414.5,87.5 C415.83,89.53 416.47,92.5 418,94.2 C419.53,95.9 421.82,97.57 423.7,97.7 C425.58,97.83 427.33,95.88 429.3,95 C431.27,94.12 434.47,92.83 435.5,92.4" fill="none" stroke="#f42424" stroke-width="0.7"/></g>
<rect x="396.1" y="73.5" width="42.3" height="13.1" fill="#fff" stroke="#808080" stroke-width="0.85"/>
<line x1="398" y1="76.9" x2="415.1" y2="76.9" stroke="#3a3af5" stroke-width="0.7"/>
<text transform="translate(416.1,78.65) scale(1,1.08)" font-size="4.55" fill="#222">Truth</text>
<line x1="398" y1="83.25" x2="415.1" y2="83.25" stroke="#f03a3a" stroke-width="0.7"/>
<text transform="translate(416.1,85) scale(1,1.08)" font-size="4.55" fill="#222">Prediction</text>
<g stroke="#404040" stroke-width="0.7"><line x1="500.5" y1="106.4" x2="500.5" y2="104.6"/><line x1="500.5" y1="70.5" x2="500.5" y2="72.3"/><line x1="520.44" y1="106.4" x2="520.44" y2="104.6"/><line x1="520.44" y1="70.5" x2="520.44" y2="72.3"/><line x1="540.39" y1="106.4" x2="540.39" y2="104.6"/><line x1="540.39" y1="70.5" x2="540.39" y2="72.3"/><line x1="560.33" y1="106.4" x2="560.33" y2="104.6"/><line x1="560.33" y1="70.5" x2="560.33" y2="72.3"/><line x1="580.28" y1="106.4" x2="580.28" y2="104.6"/><line x1="580.28" y1="70.5" x2="580.28" y2="72.3"/><line x1="600.22" y1="106.4" x2="600.22" y2="104.6"/><line x1="600.22" y1="70.5" x2="600.22" y2="72.3"/><line x1="620.17" y1="106.4" x2="620.17" y2="104.6"/><line x1="620.17" y1="70.5" x2="620.17" y2="72.3"/><line x1="640.11" y1="106.4" x2="640.11" y2="104.6"/><line x1="640.11" y1="70.5" x2="640.11" y2="72.3"/><line x1="660.06" y1="106.4" x2="660.06" y2="104.6"/><line x1="660.06" y1="70.5" x2="660.06" y2="72.3"/><line x1="680" y1="106.4" x2="680" y2="104.6"/><line x1="680" y1="70.5" x2="680" y2="72.3"/><line x1="500.5" y1="106.4" x2="502.3" y2="106.4"/><line x1="680" y1="106.4" x2="678.2" y2="106.4"/><line x1="500.5" y1="88.45" x2="502.3" y2="88.45"/><line x1="680" y1="88.45" x2="678.2" y2="88.45"/><line x1="500.5" y1="70.5" x2="502.3" y2="70.5"/><line x1="680" y1="70.5" x2="678.2" y2="70.5"/></g>
<rect x="500.5" y="70.5" width="179.5" height="35.9" fill="none" stroke="#7a7a7a" stroke-width="1"/>
<text transform="translate(500.5,113.3) scale(1,1.08)" font-size="4.85" fill="#303030" text-anchor="middle">0</text><text transform="translate(520.44,113.3) scale(1,1.08)" font-size="4.85" fill="#303030" text-anchor="middle">100</text><text transform="translate(540.39,113.3) scale(1,1.08)" font-size="4.85" fill="#303030" text-anchor="middle">200</text><text transform="translate(560.33,113.3) scale(1,1.08)" font-size="4.85" fill="#303030" text-anchor="middle">300</text><text transform="translate(580.28,113.3) scale(1,1.08)" font-size="4.85" fill="#303030" text-anchor="middle">400</text><text transform="translate(600.22,113.3) scale(1,1.08)" font-size="4.85" fill="#303030" text-anchor="middle">500</text><text transform="translate(620.17,113.3) scale(1,1.08)" font-size="4.85" fill="#303030" text-anchor="middle">600</text><text transform="translate(640.11,113.3) scale(1,1.08)" font-size="4.85" fill="#303030" text-anchor="middle">700</text><text transform="translate(660.06,113.3) scale(1,1.08)" font-size="4.85" fill="#303030" text-anchor="middle">800</text><text transform="translate(680,113.3) scale(1,1.08)" font-size="4.85" fill="#303030" text-anchor="middle">900</text><text transform="translate(498.6,108.55) scale(1,1.08)" font-size="4.85" fill="#303030" text-anchor="end">-0.5</text><text transform="translate(498.6,90.6) scale(1,1.08)" font-size="4.85" fill="#303030" text-anchor="end">0</text><text transform="translate(498.6,72.65) scale(1,1.08)" font-size="4.85" fill="#303030" text-anchor="end">0.5</text>
<g clip-path="url(#c21)"><path d="M502.5,90.1 C502.88,89.75 503.83,89.28 504.8,88 C505.77,86.72 507.27,83.53 508.3,82.4 C509.33,81.27 510.13,81.43 511,81.2 C511.87,80.97 512.35,80.8 513.5,81 C514.65,81.2 516.65,82.13 517.9,82.4 C519.15,82.67 520.03,82.45 521,82.6 C521.97,82.75 522.6,83.5 523.7,83.3 C524.8,83.1 526.37,81.67 527.6,81.4 C528.83,81.13 530.12,81.35 531.1,81.7 C532.08,82.05 532.63,82.73 533.5,83.5 C534.37,84.27 534.95,84.87 536.3,86.3 C537.65,87.73 540.13,90.7 541.6,92.1 C543.07,93.5 543.65,93.98 545.1,94.7 C546.55,95.42 548.55,96.48 550.3,96.4 C552.05,96.32 553.85,95.6 555.6,94.2 C557.35,92.8 559.35,90.05 560.8,88 C562.25,85.95 563.13,83.35 564.3,81.9 C565.47,80.45 566.62,80.03 567.8,79.3 C568.98,78.57 569.93,77.65 571.4,77.5 C572.87,77.35 575,77.97 576.6,78.4 C578.2,78.83 579.37,79.75 581,80.1 C582.63,80.45 584.98,80.27 586.4,80.5 C587.82,80.73 588.48,80.83 589.5,81.5 C590.52,82.17 591.42,82.97 592.5,84.5 C593.58,86.03 594.53,88.22 596,90.7 C597.47,93.18 599.83,97.37 601.3,99.4 C602.77,101.43 603.48,102.08 604.8,102.9 C606.12,103.72 607.6,104.58 609.2,104.3 C610.8,104.02 612.65,103.18 614.4,101.2 C616.15,99.22 618.23,95.47 619.7,92.4 C621.17,89.33 622.15,85.2 623.2,82.8 C624.25,80.4 624.98,79.17 626,78 C627.02,76.83 627.87,76.47 629.3,75.8 C630.73,75.13 633.07,74.22 634.6,74 C636.13,73.78 637.02,74 638.5,74.5 C639.98,75 641.83,75.75 643.5,77 C645.17,78.25 646.92,80.25 648.5,82 C650.08,83.75 651.67,85.47 653,87.5 C654.33,89.53 654.97,92.5 656.5,94.2 C658.03,95.9 660.32,97.57 662.2,97.7 C664.08,97.83 665.83,95.88 667.8,95 C669.77,94.12 672.97,92.83 674,92.4" fill="none" stroke="#3434f4" stroke-width="0.66"/><path d="M500.5,90.1 C500.88,89.75 501.83,89.28 502.8,88 C503.77,86.72 505.27,83.53 506.3,82.4 C507.33,81.27 508.13,81.43 509,81.2 C509.87,80.97 510.35,80.8 511.5,81 C512.65,81.2 514.65,82.13 515.9,82.4 C517.15,82.67 518.03,82.45 519,82.6 C519.97,82.75 520.6,83.5 521.7,83.3 C522.8,83.1 524.37,81.67 525.6,81.4 C526.83,81.13 528.12,81.35 529.1,81.7 C530.08,82.05 530.63,82.73 531.5,83.5 C532.37,84.27 532.95,84.87 534.3,86.3 C535.65,87.73 538.13,90.7 539.6,92.1 C541.07,93.5 541.65,93.98 543.1,94.7 C544.55,95.42 546.55,96.48 548.3,96.4 C550.05,96.32 551.85,95.6 553.6,94.2 C555.35,92.8 557.35,90.05 558.8,88 C560.25,85.95 561.13,83.35 562.3,81.9 C563.47,80.45 564.62,80.03 565.8,79.3 C566.98,78.57 567.93,77.65 569.4,77.5 C570.87,77.35 573,77.97 574.6,78.4 C576.2,78.83 577.37,79.75 579,80.1 C580.63,80.45 582.98,80.27 584.4,80.5 C585.82,80.73 586.48,80.83 587.5,81.5 C588.52,82.17 589.42,82.97 590.5,84.5 C591.58,86.03 592.53,88.22 594,90.7 C595.47,93.18 597.83,97.37 599.3,99.4 C600.77,101.43 601.48,102.08 602.8,102.9 C604.12,103.72 605.6,104.58 607.2,104.3 C608.8,104.02 610.65,103.18 612.4,101.2 C614.15,99.22 616.23,95.47 617.7,92.4 C619.17,89.33 620.15,85.2 621.2,82.8 C622.25,80.4 622.98,79.17 624,78 C625.02,76.83 625.87,76.47 627.3,75.8 C628.73,75.13 631.07,74.22 632.6,74 C634.13,73.78 635.02,74 636.5,74.5 C637.98,75 639.83,75.75 641.5,77 C643.17,78.25 644.92,80.25 646.5,82 C648.08,83.75 649.67,85.47 651,87.5 C652.33,89.53 652.97,92.5 654.5,94.2 C656.03,95.9 658.32,97.57 660.2,97.7 C662.08,97.83 663.83,95.88 665.8,95 C667.77,94.12 670.97,92.83 672,92.4" fill="none" stroke="#f42424" stroke-width="0.66"/></g>
<rect x="622.5" y="73.5" width="52.9" height="13.1" fill="#fff" stroke="#808080" stroke-width="0.85"/>
<line x1="624.4" y1="76.9" x2="641.5" y2="76.9" stroke="#3a3af5" stroke-width="0.7"/>
<text transform="translate(642.5,78.65) scale(1,1.08)" font-size="4.55" fill="#222">Truth (Delayed)</text>
<line x1="624.4" y1="83.25" x2="641.5" y2="83.25" stroke="#f03a3a" stroke-width="0.7"/>
<text transform="translate(642.5,85) scale(1,1.08)" font-size="4.55" fill="#222">Prediction</text>
<g stroke="#404040" stroke-width="0.7"><line x1="27.5" y1="165.4" x2="27.5" y2="163.6"/><line x1="27.5" y1="129.5" x2="27.5" y2="131.3"/><line x1="47.39" y1="165.4" x2="47.39" y2="163.6"/><line x1="47.39" y1="129.5" x2="47.39" y2="131.3"/><line x1="67.28" y1="165.4" x2="67.28" y2="163.6"/><line x1="67.28" y1="129.5" x2="67.28" y2="131.3"/><line x1="87.17" y1="165.4" x2="87.17" y2="163.6"/><line x1="87.17" y1="129.5" x2="87.17" y2="131.3"/><line x1="107.06" y1="165.4" x2="107.06" y2="163.6"/><line x1="107.06" y1="129.5" x2="107.06" y2="131.3"/><line x1="126.94" y1="165.4" x2="126.94" y2="163.6"/><line x1="126.94" y1="129.5" x2="126.94" y2="131.3"/><line x1="146.83" y1="165.4" x2="146.83" y2="163.6"/><line x1="146.83" y1="129.5" x2="146.83" y2="131.3"/><line x1="166.72" y1="165.4" x2="166.72" y2="163.6"/><line x1="166.72" y1="129.5" x2="166.72" y2="131.3"/><line x1="186.61" y1="165.4" x2="186.61" y2="163.6"/><line x1="186.61" y1="129.5" x2="186.61" y2="131.3"/><line x1="206.5" y1="165.4" x2="206.5" y2="163.6"/><line x1="206.5" y1="129.5" x2="206.5" y2="131.3"/><line x1="27.5" y1="165.4" x2="29.3" y2="165.4"/><line x1="206.5" y1="165.4" x2="204.7" y2="165.4"/><line x1="27.5" y1="147.95" x2="29.3" y2="147.95"/><line x1="206.5" y1="147.95" x2="204.7" y2="147.95"/><line x1="27.5" y1="130.5" x2="29.3" y2="130.5"/><line x1="206.5" y1="130.5" x2="204.7" y2="130.5"/></g>
<rect x="27.5" y="129.5" width="179" height="35.9" fill="none" stroke="#7a7a7a" stroke-width="1"/>
<text transform="translate(27.5,173.15) scale(1,1.08)" font-size="4.85" fill="#303030" text-anchor="middle">0</text><text transform="translate(47.39,173.15) scale(1,1.08)" font-size="4.85" fill="#303030" text-anchor="middle">1000</text><text transform="translate(67.28,173.15) scale(1,1.08)" font-size="4.85" fill="#303030" text-anchor="middle">2000</text><text transform="translate(87.17,173.15) scale(1,1.08)" font-size="4.85" fill="#303030" text-anchor="middle">3000</text><text transform="translate(107.06,173.15) scale(1,1.08)" font-size="4.85" fill="#303030" text-anchor="middle">4000</text><text transform="translate(126.94,173.15) scale(1,1.08)" font-size="4.85" fill="#303030" text-anchor="middle">5000</text><text transform="translate(146.83,173.15) scale(1,1.08)" font-size="4.85" fill="#303030" text-anchor="middle">6000</text><text transform="translate(166.72,173.15) scale(1,1.08)" font-size="4.85" fill="#303030" text-anchor="middle">7000</text><text transform="translate(186.61,173.15) scale(1,1.08)" font-size="4.85" fill="#303030" text-anchor="middle">8000</text><text transform="translate(206.5,173.15) scale(1,1.08)" font-size="4.85" fill="#303030" text-anchor="middle">9000</text><text transform="translate(25.6,167.55) scale(1,1.08)" font-size="4.85" fill="#303030" text-anchor="end">-0.5</text><text transform="translate(25.6,150.1) scale(1,1.08)" font-size="4.85" fill="#303030" text-anchor="end">0</text><text transform="translate(25.6,132.65) scale(1,1.08)" font-size="4.85" fill="#303030" text-anchor="end">0.5</text>
<g clip-path="url(#c02)"><path d="M27.4,153 L27.7,144 L28.5,143.4 L29.2,146.8 L30,144 L30.8,142.8 L31.4,148.5 L32.2,151.3 L33,149.1 L33.7,142.3 L34.5,147.9 L35.3,146.2 L36,149.6 L36.8,141.7 L37.3,149.6 L38.2,150.8 L39,149.1 L39.6,149.6 L40.5,137.2 L41.3,135.5 L42.1,138.3 L42.8,151.9 L43.5,157.6 L44.3,158.1 L45.2,149.6 L45.9,140.6 L46.6,143.4 L47.3,141.2 L48.1,145.1 L48.9,154.2 L49.5,157 L50.3,145.1 L51.1,136.6 L51.8,139.5 L52.6,143.4 L53.4,145.1 L54.3,157 L55.2,149.6 L56,141.7 L57.1,140.6 L57.9,145.1 L58.8,141.7 L59.7,147.4 L60.5,150.8 L61.3,151.3 L62.2,141.7 L63.1,144 L63.9,140 L64.7,141.7 L65.6,149.6 L66.5,154.2 L67.3,149.6 L68.1,140 L69,145.1 L69.6,150.8 L70.4,145.1 L71.1,142.8 L71.9,153 L72.7,151.9 L73.5,144 L74.5,141.7 L75.2,145.7 L76,142.8 L76.9,149.6 L78.3,154.7 L79.2,146.2 L80.1,138.9 L80.9,140.6 L81.7,150.8 L82.4,157 L83.2,157.6 L84,156.4 L84.9,149.6 L85.7,140.6 L86.5,144 L87.2,140 L88,149.6 L88.8,155.3 L89.7,156.7 L90.6,149.6 L91.4,141.7 L92.2,143.4 L92.8,141.7 L93.6,147.4 L94.8,151.9 L95.5,153 L96.5,145.1 L97.4,141.7 L98.2,142.8 L98.9,149.6 L99.6,150.8 L100.4,142.8 L101.2,153 L101.9,154.2 L102.7,145.1 L103.5,141.2 L104.2,147.4 L104.9,142.8 L105.7,153 L106.4,154.7 L107.2,147.4 L108.3,140.6 L109.1,145.1 L109.8,141.7 L110.6,145.1 L111.7,150.8 L112.9,145.1 L114,138.9 L114.8,144 L115.5,146.2 L116.3,142.3 L117.1,149.6 L118,155.9 L119.1,147.4 L120,135.5 L120.8,138.3 L121.6,141.7 L122.5,151.9 L123.4,159.8 L123.9,161 L124.5,151.9 L125.7,136.1 L126.5,141.7 L127.2,144 L127.9,141.7 L128.7,149.6 L129.5,153.6 L130.4,147.4 L131.3,139.5 L132.1,144 L132.9,147.4 L133.8,141.7 L134.7,149.6 L135.5,154.2 L136.3,149.6 L137.2,140.6 L138.1,142.8 L138.9,149.6 L139.7,153 L140.6,144 L141.5,141.2 L142.3,146.8 L143,142.3 L143.7,141.7 L144.5,147.4 L145.4,144 L146.3,153 L147.1,154.7 L147.9,147.4 L148.8,141.7 L149.7,146.2 L150.5,142.8 L151.3,149.6 L152.2,154.2 L153.1,149.6 L153.9,140.6 L154.7,145.1 L155.6,147.9 L156.5,142.8 L157.3,149.6 L158.1,151.9 L159,145.1 L159.9,138.3 L160.7,142.8 L161.5,142.3 L162.2,146.2 L162.9,155.3 L163.7,159.8 L164.4,161.5 L165.2,149.6 L165.8,131.5 L166.3,132.7 L166.9,144 L167.5,149.6 L168.3,147.4 L169.2,148.5 L170.1,145.1 L170.9,146.2 L171.7,153 L172.6,154.2 L173.5,140.6 L174.3,136.1 L174.8,139.5 L175.4,155.3 L176,157.3 L176.9,149.6 L177.7,145.1 L178.5,140.6 L179.4,145.1 L180.3,149.6 L181.1,153 L181.9,149.6 L182.8,142.8 L183.7,146.8 L184.5,144 L185.2,147.4 L185.9,142.8 L186.7,149.6 L187.5,151.9 L188.4,145.1 L189.3,140.6 L190.1,145.1 L190.9,140 L191.8,147.4 L192.7,151.9 L193.5,153.6 L194.2,144 L195,139.5 L195.8,145.1 L196.6,144 L197.5,154.2 L198,155.3 L198.8,149.6 L199.5,146.2" fill="none" stroke="#3089cb" stroke-width="0.65" stroke-linejoin="round"/></g>
<g stroke="#404040" stroke-width="0.7"><line x1="264" y1="165.4" x2="264" y2="163.6"/><line x1="264" y1="129.5" x2="264" y2="131.3"/><line x1="283.89" y1="165.4" x2="283.89" y2="163.6"/><line x1="283.89" y1="129.5" x2="283.89" y2="131.3"/><line x1="303.78" y1="165.4" x2="303.78" y2="163.6"/><line x1="303.78" y1="129.5" x2="303.78" y2="131.3"/><line x1="323.67" y1="165.4" x2="323.67" y2="163.6"/><line x1="323.67" y1="129.5" x2="323.67" y2="131.3"/><line x1="343.56" y1="165.4" x2="343.56" y2="163.6"/><line x1="343.56" y1="129.5" x2="343.56" y2="131.3"/><line x1="363.44" y1="165.4" x2="363.44" y2="163.6"/><line x1="363.44" y1="129.5" x2="363.44" y2="131.3"/><line x1="383.33" y1="165.4" x2="383.33" y2="163.6"/><line x1="383.33" y1="129.5" x2="383.33" y2="131.3"/><line x1="403.22" y1="165.4" x2="403.22" y2="163.6"/><line x1="403.22" y1="129.5" x2="403.22" y2="131.3"/><line x1="423.11" y1="165.4" x2="423.11" y2="163.6"/><line x1="423.11" y1="129.5" x2="423.11" y2="131.3"/><line x1="443" y1="165.4" x2="443" y2="163.6"/><line x1="443" y1="129.5" x2="443" y2="131.3"/><line x1="264" y1="163.8" x2="265.8" y2="163.8"/><line x1="443" y1="163.8" x2="441.2" y2="163.8"/><line x1="264" y1="148.3" x2="265.8" y2="148.3"/><line x1="443" y1="148.3" x2="441.2" y2="148.3"/><line x1="264" y1="132.8" x2="265.8" y2="132.8"/><line x1="443" y1="132.8" x2="441.2" y2="132.8"/></g>
<rect x="264" y="129.5" width="179" height="35.9" fill="none" stroke="#7a7a7a" stroke-width="1"/>
<text transform="translate(264,173.15) scale(1,1.08)" font-size="4.85" fill="#303030" text-anchor="middle">0</text><text transform="translate(283.89,173.15) scale(1,1.08)" font-size="4.85" fill="#303030" text-anchor="middle">100</text><text transform="translate(303.78,173.15) scale(1,1.08)" font-size="4.85" fill="#303030" text-anchor="middle">200</text><text transform="translate(323.67,173.15) scale(1,1.08)" font-size="4.85" fill="#303030" text-anchor="middle">300</text><text transform="translate(343.56,173.15) scale(1,1.08)" font-size="4.85" fill="#303030" text-anchor="middle">400</text><text transform="translate(363.44,173.15) scale(1,1.08)" font-size="4.85" fill="#303030" text-anchor="middle">500</text><text transform="translate(383.33,173.15) scale(1,1.08)" font-size="4.85" fill="#303030" text-anchor="middle">600</text><text transform="translate(403.22,173.15) scale(1,1.08)" font-size="4.85" fill="#303030" text-anchor="middle">700</text><text transform="translate(423.11,173.15) scale(1,1.08)" font-size="4.85" fill="#303030" text-anchor="middle">800</text><text transform="translate(443,173.15) scale(1,1.08)" font-size="4.85" fill="#303030" text-anchor="middle">900</text><text transform="translate(262.1,165.95) scale(1,1.08)" font-size="4.85" fill="#303030" text-anchor="end">-0.2</text><text transform="translate(262.1,150.45) scale(1,1.08)" font-size="4.85" fill="#303030" text-anchor="end">0</text><text transform="translate(262.1,134.95) scale(1,1.08)" font-size="4.85" fill="#303030" text-anchor="end">0.2</text>
<g clip-path="url(#c12)"><path d="M264,158.2 C264.38,157.82 265.63,157.27 266.3,155.9 C266.97,154.53 267.42,152.48 268,150 C268.58,147.52 268.92,142.78 269.8,141 C270.68,139.22 272.43,139.45 273.3,139.3 C274.17,139.15 274.13,138.78 275,140.1 C275.87,141.42 277.47,145.73 278.5,147.2 C279.53,148.67 280.17,148.12 281.2,148.9 C282.23,149.68 283.53,152.48 284.7,151.9 C285.87,151.32 286.75,147.65 288.2,145.4 C289.65,143.15 291.65,138.83 293.4,138.4 C295.15,137.97 297.23,140.75 298.7,142.8 C300.17,144.85 301.12,148.67 302.2,150.7 C303.28,152.73 304.18,154.33 305.2,155 C306.22,155.67 307.2,154.75 308.3,154.7 C309.4,154.65 310.77,154.5 311.8,154.7 C312.83,154.9 313.47,155.27 314.5,155.9 C315.53,156.53 316.98,158.65 318,158.5 C319.02,158.35 319.65,156.17 320.6,155 C321.55,153.83 322.88,153.5 323.7,151.5 C324.52,149.5 324.85,146.2 325.5,143 C326.15,139.8 326.67,133.37 327.6,132.3 C328.53,131.23 330.22,135.58 331.1,136.6 C331.98,137.62 332.08,136.63 332.9,138.4 C333.72,140.17 334.7,144.87 336,147.2 C337.3,149.53 339.47,151.8 340.7,152.4 C341.93,153 342.63,152.37 343.4,150.8 C344.17,149.23 344.58,145.37 345.3,143 C346.02,140.63 346.85,138.1 347.7,136.6 C348.55,135.1 349.47,134.95 350.4,134 C351.33,133.05 352.4,130.02 353.3,130.9 C354.2,131.78 354.8,136.15 355.8,139.3 C356.8,142.45 358.13,146.6 359.3,149.8 C360.47,153 361.63,156.6 362.8,158.5 C363.97,160.4 365.13,160.38 366.3,161.2 C367.47,162.02 368.78,162.92 369.8,163.4 C370.82,163.88 371.38,164.18 372.4,164.1 C373.42,164.02 374.88,163.97 375.9,162.9 C376.92,161.83 377.57,159.88 378.5,157.7 C379.43,155.52 380.62,153.75 381.5,149.8 C382.38,145.85 383.18,137.27 383.8,134 C384.42,130.73 384.47,130.63 385.2,130.2 C385.93,129.77 387.12,130.33 388.2,131.4 C389.28,132.47 390.45,134.7 391.7,136.6 C392.95,138.5 394.32,141.23 395.7,142.8 C397.08,144.37 398.45,145.38 400,146 C401.55,146.62 403.33,146.58 405,146.5 C406.67,146.42 408.87,145.48 410,145.5 C411.13,145.52 411.2,145.45 411.8,146.6 C412.4,147.75 412.72,149.97 413.6,152.4 C414.48,154.83 415.93,159.02 417.1,161.2 C418.27,163.38 419.43,165.22 420.6,165.5 C421.77,165.78 422.93,164.65 424.1,162.9 C425.27,161.15 426.13,157.62 427.6,155 C429.07,152.38 431.58,148.87 432.9,147.2 C434.22,145.53 435.07,145.37 435.5,145" fill="none" stroke="#8080ff" stroke-width="0.3" opacity="0.6"/><path d="M264,158.2 C264.38,157.82 265.63,157.27 266.3,155.9 C266.97,154.53 267.42,152.48 268,150 C268.58,147.52 268.92,142.78 269.8,141 C270.68,139.22 272.43,139.45 273.3,139.3 C274.17,139.15 274.13,138.78 275,140.1 C275.87,141.42 277.47,145.73 278.5,147.2 C279.53,148.67 280.17,148.12 281.2,148.9 C282.23,149.68 283.53,152.48 284.7,151.9 C285.87,151.32 286.75,147.65 288.2,145.4 C289.65,143.15 291.65,138.83 293.4,138.4 C295.15,137.97 297.23,140.75 298.7,142.8 C300.17,144.85 301.12,148.67 302.2,150.7 C303.28,152.73 304.18,154.33 305.2,155 C306.22,155.67 307.2,154.75 308.3,154.7 C309.4,154.65 310.77,154.5 311.8,154.7 C312.83,154.9 313.47,155.27 314.5,155.9 C315.53,156.53 316.98,158.65 318,158.5 C319.02,158.35 319.65,156.17 320.6,155 C321.55,153.83 322.88,153.5 323.7,151.5 C324.52,149.5 324.85,146.2 325.5,143 C326.15,139.8 326.67,133.37 327.6,132.3 C328.53,131.23 330.22,135.58 331.1,136.6 C331.98,137.62 332.08,136.63 332.9,138.4 C333.72,140.17 334.7,144.87 336,147.2 C337.3,149.53 339.47,151.8 340.7,152.4 C341.93,153 342.63,152.37 343.4,150.8 C344.17,149.23 344.58,145.37 345.3,143 C346.02,140.63 346.85,138.1 347.7,136.6 C348.55,135.1 349.47,134.95 350.4,134 C351.33,133.05 352.4,130.02 353.3,130.9 C354.2,131.78 354.8,136.15 355.8,139.3 C356.8,142.45 358.13,146.6 359.3,149.8 C360.47,153 361.63,156.6 362.8,158.5 C363.97,160.4 365.13,160.38 366.3,161.2 C367.47,162.02 368.78,162.92 369.8,163.4 C370.82,163.88 371.38,164.18 372.4,164.1 C373.42,164.02 374.88,163.97 375.9,162.9 C376.92,161.83 377.57,159.88 378.5,157.7 C379.43,155.52 380.62,153.75 381.5,149.8 C382.38,145.85 383.18,137.27 383.8,134 C384.42,130.73 384.47,130.63 385.2,130.2 C385.93,129.77 387.12,130.33 388.2,131.4 C389.28,132.47 390.45,134.7 391.7,136.6 C392.95,138.5 394.32,141.23 395.7,142.8 C397.08,144.37 398.45,145.38 400,146 C401.55,146.62 403.33,146.58 405,146.5 C406.67,146.42 408.87,145.48 410,145.5 C411.13,145.52 411.2,145.45 411.8,146.6 C412.4,147.75 412.72,149.97 413.6,152.4 C414.48,154.83 415.93,159.02 417.1,161.2 C418.27,163.38 419.43,165.22 420.6,165.5 C421.77,165.78 422.93,164.65 424.1,162.9 C425.27,161.15 426.13,157.62 427.6,155 C429.07,152.38 431.58,148.87 432.9,147.2 C434.22,145.53 435.07,145.37 435.5,145" fill="none" stroke="#f42424" stroke-width="0.7"/></g>
<rect x="396.1" y="132.5" width="42.3" height="13.1" fill="#fff" stroke="#808080" stroke-width="0.85"/>
<line x1="398" y1="135.9" x2="415.1" y2="135.9" stroke="#3a3af5" stroke-width="0.7"/>
<text transform="translate(416.1,137.65) scale(1,1.08)" font-size="4.55" fill="#222">Truth</text>
<line x1="398" y1="142.25" x2="415.1" y2="142.25" stroke="#f03a3a" stroke-width="0.7"/>
<text transform="translate(416.1,144) scale(1,1.08)" font-size="4.55" fill="#222">Prediction</text>
<g stroke="#404040" stroke-width="0.7"><line x1="500.5" y1="165.4" x2="500.5" y2="163.6"/><line x1="500.5" y1="129.5" x2="500.5" y2="131.3"/><line x1="520.44" y1="165.4" x2="520.44" y2="163.6"/><line x1="520.44" y1="129.5" x2="520.44" y2="131.3"/><line x1="540.39" y1="165.4" x2="540.39" y2="163.6"/><line x1="540.39" y1="129.5" x2="540.39" y2="131.3"/><line x1="560.33" y1="165.4" x2="560.33" y2="163.6"/><line x1="560.33" y1="129.5" x2="560.33" y2="131.3"/><line x1="580.28" y1="165.4" x2="580.28" y2="163.6"/><line x1="580.28" y1="129.5" x2="580.28" y2="131.3"/><line x1="600.22" y1="165.4" x2="600.22" y2="163.6"/><line x1="600.22" y1="129.5" x2="600.22" y2="131.3"/><line x1="620.17" y1="165.4" x2="620.17" y2="163.6"/><line x1="620.17" y1="129.5" x2="620.17" y2="131.3"/><line x1="640.11" y1="165.4" x2="640.11" y2="163.6"/><line x1="640.11" y1="129.5" x2="640.11" y2="131.3"/><line x1="660.06" y1="165.4" x2="660.06" y2="163.6"/><line x1="660.06" y1="129.5" x2="660.06" y2="131.3"/><line x1="680" y1="165.4" x2="680" y2="163.6"/><line x1="680" y1="129.5" x2="680" y2="131.3"/><line x1="500.5" y1="163.8" x2="502.3" y2="163.8"/><line x1="680" y1="163.8" x2="678.2" y2="163.8"/><line x1="500.5" y1="148.3" x2="502.3" y2="148.3"/><line x1="680" y1="148.3" x2="678.2" y2="148.3"/><line x1="500.5" y1="132.8" x2="502.3" y2="132.8"/><line x1="680" y1="132.8" x2="678.2" y2="132.8"/></g>
<rect x="500.5" y="129.5" width="179.5" height="35.9" fill="none" stroke="#7a7a7a" stroke-width="1"/>
<text transform="translate(500.5,173.15) scale(1,1.08)" font-size="4.85" fill="#303030" text-anchor="middle">0</text><text transform="translate(520.44,173.15) scale(1,1.08)" font-size="4.85" fill="#303030" text-anchor="middle">100</text><text transform="translate(540.39,173.15) scale(1,1.08)" font-size="4.85" fill="#303030" text-anchor="middle">200</text><text transform="translate(560.33,173.15) scale(1,1.08)" font-size="4.85" fill="#303030" text-anchor="middle">300</text><text transform="translate(580.28,173.15) scale(1,1.08)" font-size="4.85" fill="#303030" text-anchor="middle">400</text><text transform="translate(600.22,173.15) scale(1,1.08)" font-size="4.85" fill="#303030" text-anchor="middle">500</text><text transform="translate(620.17,173.15) scale(1,1.08)" font-size="4.85" fill="#303030" text-anchor="middle">600</text><text transform="translate(640.11,173.15) scale(1,1.08)" font-size="4.85" fill="#303030" text-anchor="middle">700</text><text transform="translate(660.06,173.15) scale(1,1.08)" font-size="4.85" fill="#303030" text-anchor="middle">800</text><text transform="translate(680,173.15) scale(1,1.08)" font-size="4.85" fill="#303030" text-anchor="middle">900</text><text transform="translate(498.6,165.95) scale(1,1.08)" font-size="4.85" fill="#303030" text-anchor="end">-0.2</text><text transform="translate(498.6,150.45) scale(1,1.08)" font-size="4.85" fill="#303030" text-anchor="end">0</text><text transform="translate(498.6,134.95) scale(1,1.08)" font-size="4.85" fill="#303030" text-anchor="end">0.2</text>
<g clip-path="url(#c22)"><path d="M502.5,158.2 C502.88,157.82 504.13,157.27 504.8,155.9 C505.47,154.53 505.92,152.48 506.5,150 C507.08,147.52 507.42,142.78 508.3,141 C509.18,139.22 510.93,139.45 511.8,139.3 C512.67,139.15 512.63,138.78 513.5,140.1 C514.37,141.42 515.97,145.73 517,147.2 C518.03,148.67 518.67,148.12 519.7,148.9 C520.73,149.68 522.03,152.48 523.2,151.9 C524.37,151.32 525.25,147.65 526.7,145.4 C528.15,143.15 530.15,138.83 531.9,138.4 C533.65,137.97 535.73,140.75 537.2,142.8 C538.67,144.85 539.62,148.67 540.7,150.7 C541.78,152.73 542.68,154.33 543.7,155 C544.72,155.67 545.7,154.75 546.8,154.7 C547.9,154.65 549.27,154.5 550.3,154.7 C551.33,154.9 551.97,155.27 553,155.9 C554.03,156.53 555.48,158.65 556.5,158.5 C557.52,158.35 558.15,156.17 559.1,155 C560.05,153.83 561.38,153.5 562.2,151.5 C563.02,149.5 563.35,146.2 564,143 C564.65,139.8 565.17,133.37 566.1,132.3 C567.03,131.23 568.72,135.58 569.6,136.6 C570.48,137.62 570.58,136.63 571.4,138.4 C572.22,140.17 573.2,144.87 574.5,147.2 C575.8,149.53 577.97,151.8 579.2,152.4 C580.43,153 581.13,152.37 581.9,150.8 C582.67,149.23 583.08,145.37 583.8,143 C584.52,140.63 585.35,138.1 586.2,136.6 C587.05,135.1 587.97,134.95 588.9,134 C589.83,133.05 590.9,130.02 591.8,130.9 C592.7,131.78 593.3,136.15 594.3,139.3 C595.3,142.45 596.63,146.6 597.8,149.8 C598.97,153 600.13,156.6 601.3,158.5 C602.47,160.4 603.63,160.38 604.8,161.2 C605.97,162.02 607.28,162.92 608.3,163.4 C609.32,163.88 609.88,164.18 610.9,164.1 C611.92,164.02 613.38,163.97 614.4,162.9 C615.42,161.83 616.07,159.88 617,157.7 C617.93,155.52 619.12,153.75 620,149.8 C620.88,145.85 621.68,137.27 622.3,134 C622.92,130.73 622.97,130.63 623.7,130.2 C624.43,129.77 625.62,130.33 626.7,131.4 C627.78,132.47 628.95,134.7 630.2,136.6 C631.45,138.5 632.82,141.23 634.2,142.8 C635.58,144.37 636.95,145.38 638.5,146 C640.05,146.62 641.83,146.58 643.5,146.5 C645.17,146.42 647.37,145.48 648.5,145.5 C649.63,145.52 649.7,145.45 650.3,146.6 C650.9,147.75 651.22,149.97 652.1,152.4 C652.98,154.83 654.43,159.02 655.6,161.2 C656.77,163.38 657.93,165.22 659.1,165.5 C660.27,165.78 661.43,164.65 662.6,162.9 C663.77,161.15 664.63,157.62 666.1,155 C667.57,152.38 670.08,148.87 671.4,147.2 C672.72,145.53 673.57,145.37 674,145" fill="none" stroke="#3434f4" stroke-width="0.66"/><path d="M500.5,158.2 C500.88,157.82 502.13,157.27 502.8,155.9 C503.47,154.53 503.92,152.48 504.5,150 C505.08,147.52 505.42,142.78 506.3,141 C507.18,139.22 508.93,139.45 509.8,139.3 C510.67,139.15 510.63,138.78 511.5,140.1 C512.37,141.42 513.97,145.73 515,147.2 C516.03,148.67 516.67,148.12 517.7,148.9 C518.73,149.68 520.03,152.48 521.2,151.9 C522.37,151.32 523.25,147.65 524.7,145.4 C526.15,143.15 528.15,138.83 529.9,138.4 C531.65,137.97 533.73,140.75 535.2,142.8 C536.67,144.85 537.62,148.67 538.7,150.7 C539.78,152.73 540.68,154.33 541.7,155 C542.72,155.67 543.7,154.75 544.8,154.7 C545.9,154.65 547.27,154.5 548.3,154.7 C549.33,154.9 549.97,155.27 551,155.9 C552.03,156.53 553.48,158.65 554.5,158.5 C555.52,158.35 556.15,156.17 557.1,155 C558.05,153.83 559.38,153.5 560.2,151.5 C561.02,149.5 561.35,146.2 562,143 C562.65,139.8 563.17,133.37 564.1,132.3 C565.03,131.23 566.72,135.58 567.6,136.6 C568.48,137.62 568.58,136.63 569.4,138.4 C570.22,140.17 571.2,144.87 572.5,147.2 C573.8,149.53 575.97,151.8 577.2,152.4 C578.43,153 579.13,152.37 579.9,150.8 C580.67,149.23 581.08,145.37 581.8,143 C582.52,140.63 583.35,138.1 584.2,136.6 C585.05,135.1 585.97,134.95 586.9,134 C587.83,133.05 588.9,130.02 589.8,130.9 C590.7,131.78 591.3,136.15 592.3,139.3 C593.3,142.45 594.63,146.6 595.8,149.8 C596.97,153 598.13,156.6 599.3,158.5 C600.47,160.4 601.63,160.38 602.8,161.2 C603.97,162.02 605.28,162.92 606.3,163.4 C607.32,163.88 607.88,164.18 608.9,164.1 C609.92,164.02 611.38,163.97 612.4,162.9 C613.42,161.83 614.07,159.88 615,157.7 C615.93,155.52 617.12,153.75 618,149.8 C618.88,145.85 619.68,137.27 620.3,134 C620.92,130.73 620.97,130.63 621.7,130.2 C622.43,129.77 623.62,130.33 624.7,131.4 C625.78,132.47 626.95,134.7 628.2,136.6 C629.45,138.5 630.82,141.23 632.2,142.8 C633.58,144.37 634.95,145.38 636.5,146 C638.05,146.62 639.83,146.58 641.5,146.5 C643.17,146.42 645.37,145.48 646.5,145.5 C647.63,145.52 647.7,145.45 648.3,146.6 C648.9,147.75 649.22,149.97 650.1,152.4 C650.98,154.83 652.43,159.02 653.6,161.2 C654.77,163.38 655.93,165.22 657.1,165.5 C658.27,165.78 659.43,164.65 660.6,162.9 C661.77,161.15 662.63,157.62 664.1,155 C665.57,152.38 668.08,148.87 669.4,147.2 C670.72,145.53 671.57,145.37 672,145" fill="none" stroke="#f42424" stroke-width="0.66"/></g>
<rect x="622.5" y="132.5" width="52.9" height="13.1" fill="#fff" stroke="#808080" stroke-width="0.85"/>
<line x1="624.4" y1="135.9" x2="641.5" y2="135.9" stroke="#3a3af5" stroke-width="0.7"/>
<text transform="translate(642.5,137.65) scale(1,1.08)" font-size="4.55" fill="#222">Truth (Delayed)</text>
<line x1="624.4" y1="142.25" x2="641.5" y2="142.25" stroke="#f03a3a" stroke-width="0.7"/>
<text transform="translate(642.5,144) scale(1,1.08)" font-size="4.55" fill="#222">Prediction</text>
<g stroke="#404040" stroke-width="0.7"><line x1="27.5" y1="225.4" x2="27.5" y2="223.6"/><line x1="27.5" y1="189.4" x2="27.5" y2="191.2"/><line x1="47.39" y1="225.4" x2="47.39" y2="223.6"/><line x1="47.39" y1="189.4" x2="47.39" y2="191.2"/><line x1="67.28" y1="225.4" x2="67.28" y2="223.6"/><line x1="67.28" y1="189.4" x2="67.28" y2="191.2"/><line x1="87.17" y1="225.4" x2="87.17" y2="223.6"/><line x1="87.17" y1="189.4" x2="87.17" y2="191.2"/><line x1="107.06" y1="225.4" x2="107.06" y2="223.6"/><line x1="107.06" y1="189.4" x2="107.06" y2="191.2"/><line x1="126.94" y1="225.4" x2="126.94" y2="223.6"/><line x1="126.94" y1="189.4" x2="126.94" y2="191.2"/><line x1="146.83" y1="225.4" x2="146.83" y2="223.6"/><line x1="146.83" y1="189.4" x2="146.83" y2="191.2"/><line x1="166.72" y1="225.4" x2="166.72" y2="223.6"/><line x1="166.72" y1="189.4" x2="166.72" y2="191.2"/><line x1="186.61" y1="225.4" x2="186.61" y2="223.6"/><line x1="186.61" y1="189.4" x2="186.61" y2="191.2"/><line x1="206.5" y1="225.4" x2="206.5" y2="223.6"/><line x1="206.5" y1="189.4" x2="206.5" y2="191.2"/><line x1="27.5" y1="221.2" x2="29.3" y2="221.2"/><line x1="206.5" y1="221.2" x2="204.7" y2="221.2"/><line x1="27.5" y1="211.5" x2="29.3" y2="211.5"/><line x1="206.5" y1="211.5" x2="204.7" y2="211.5"/><line x1="27.5" y1="202" x2="29.3" y2="202"/><line x1="206.5" y1="202" x2="204.7" y2="202"/><line x1="27.5" y1="192.5" x2="29.3" y2="192.5"/><line x1="206.5" y1="192.5" x2="204.7" y2="192.5"/></g>
<rect x="27.5" y="189.4" width="179" height="36" fill="none" stroke="#7a7a7a" stroke-width="1"/>
<text transform="translate(27.5,232.75) scale(1,1.08)" font-size="4.85" fill="#303030" text-anchor="middle">0</text><text transform="translate(47.39,232.75) scale(1,1.08)" font-size="4.85" fill="#303030" text-anchor="middle">1000</text><text transform="translate(67.28,232.75) scale(1,1.08)" font-size="4.85" fill="#303030" text-anchor="middle">2000</text><text transform="translate(87.17,232.75) scale(1,1.08)" font-size="4.85" fill="#303030" text-anchor="middle">3000</text><text transform="translate(107.06,232.75) scale(1,1.08)" font-size="4.85" fill="#303030" text-anchor="middle">4000</text><text transform="translate(126.94,232.75) scale(1,1.08)" font-size="4.85" fill="#303030" text-anchor="middle">5000</text><text transform="translate(146.83,232.75) scale(1,1.08)" font-size="4.85" fill="#303030" text-anchor="middle">6000</text><text transform="translate(166.72,232.75) scale(1,1.08)" font-size="4.85" fill="#303030" text-anchor="middle">7000</text><text transform="translate(186.61,232.75) scale(1,1.08)" font-size="4.85" fill="#303030" text-anchor="middle">8000</text><text transform="translate(206.5,232.75) scale(1,1.08)" font-size="4.85" fill="#303030" text-anchor="middle">9000</text><text transform="translate(25.6,223.35) scale(1,1.08)" font-size="4.85" fill="#303030" text-anchor="end">-0.2</text><text transform="translate(25.6,213.65) scale(1,1.08)" font-size="4.85" fill="#303030" text-anchor="end">0</text><text transform="translate(25.6,204.15) scale(1,1.08)" font-size="4.85" fill="#303030" text-anchor="end">0.2</text><text transform="translate(25.6,194.65) scale(1,1.08)" font-size="4.85" fill="#303030" text-anchor="end">0.4</text>
<g clip-path="url(#c03)"><path d="M27.1,212.47 L27.7,205.11 L28.3,211.29 L28.8,210.21 L29.4,214.17 L30,211.81 L30.05,212.13 L30.53,206.81 L31.13,210.7 L31.63,209.16 L32.23,217.57 L32.83,213.1 L33.1,213.53 L33.7,201.15 L34.3,211.06 L34.7,209.34 L35.02,210.45 L35.62,219.83 L36.22,211.85 L36.27,212.21 L36.42,197.76 L37.02,211.07 L37.42,208.46 L37.85,209.34 L38.45,213.04 L39.05,213.11 L39.45,208.75 L39.89,212.39 L40.49,205.11 L41.09,210.88 L41.49,209.14 L41.82,213.46 L42.42,205.68 L43.02,209.79 L43.51,209.24 L44.11,220.96 L44.71,211.67 L44.76,213.21 L45.25,196.62 L45.85,210.16 L45.9,209.99 L46.38,217.57 L46.98,211.86 L47.14,212.95 L47.74,201.72 L48.34,211.32 L48.61,209.13 L49.21,216.44 L49.81,213.23 L50.08,213.1 L50.68,196.06 L51.28,210.9 L51.67,209.18 L52.27,222.1 L52.87,212.64 L52.92,213.76 L53.17,201.72 L53.77,209.8 L54.17,209.4 L54.61,210.17 L55.21,217.57 L55.81,212.7 L55.86,212.86 L56.34,197.76 L56.94,211.18 L57.34,209.86 L57.67,209.37 L58.27,220.96 L58.87,211.59 L58.92,212.09 L59.4,200.59 L60,210.25 L60.05,210.44 L60.53,217.57 L61.13,212.57 L61.63,212.94 L62.23,192.09 L62.83,210.81 L62.88,209.01 L63.36,219.83 L63.96,211.89 L64.46,212.83 L65.06,200.02 L65.66,211.09 L65.71,209.73 L66.19,215.3 L66.79,212.05 L67.19,209.74 L67.51,213.49 L68.11,196.62 L68.71,210.86 L68.76,209.88 L69.25,224.36 L69.85,213.31 L70.12,212.2 L70.72,199.45 L71.32,211.38 L71.37,210.54 L71.85,218.7 L72.45,213.03 L72.95,213.23 L73.55,197.76 L74.15,211.03 L74.65,210.34 L75.25,222.1 L75.85,211.86 L75.9,212.92 L76.38,201.72 L76.98,211.41 L77.25,209.61 L77.85,215.3 L78.45,213.29 L78.84,213.91 L79.44,197.76 L80.04,210.03 L80.31,209.08 L80.91,220.96 L81.51,211.54 L81.78,212.58 L82.38,200.59 L82.98,209.57 L83.14,209.45 L83.74,218.7 L84.34,212.32 L84.5,213.89 L85.1,198.32 L85.7,210.26 L85.89,209.36 L86.49,214.17 L87.09,212.09 L87.36,212.38 L87.96,202.28 L88.56,210.61 L89.06,210.73 L89.66,217.57 L90.26,212.26 L90.42,213.92 L91.02,197.19 L91.62,210.84 L91.89,210.98 L92.49,220.4 L93.09,211.59 L93.14,212.34 L93.62,201.72 L94.22,209.93 L94.49,210.27 L95.09,217.57 L95.69,212.08 L96.08,212.19 L96.68,200.02 L97.28,209.54 L97.55,210.15 L98.15,220.4 L98.75,211.92 L98.8,212.12 L99.28,197.76 L99.88,211.39 L100.38,210.66 L100.98,217.57 L101.58,212.85 L101.74,212.3 L102.34,196.62 L102.94,211.42 L103.21,210.02 L103.81,222.1 L104.41,212 L104.68,214 L105.28,198.89 L105.88,211.26 L106.04,209.94 L106.64,218.7 L107.24,213.05 L107.4,212.82 L108,198.32 L108.6,209.52 L108.87,210.04 L109.47,217 L110.07,211.98 L110.34,212.82 L110.94,201.72 L111.54,211.43 L111.7,210.16 L112.3,218.7 L112.9,212 L113.4,213.78 L114,196.62 L114.6,209.84 L114.87,210 L115.47,218.13 L116.07,211.56 L116.23,212.51 L116.83,201.72 L117.43,211.02 L117.59,210.58 L118.19,220.96 L118.79,211.96 L119.06,213.74 L119.66,197.19 L120.26,211.22 L120.53,210.9 L121.13,217.57 L121.73,213.36 L121.89,213.13 L122.49,201.72 L123.09,209.52 L123.25,210.19 L123.85,217.57 L124.45,213.3 L124.5,209.69 L124.76,222.1 L125.36,213.08 L125.41,213.49 L125.32,194.02 L125.92,210.51 L126.42,210.81 L127.02,219.83 L127.62,211.92 L127.67,213.75 L128.15,203.98 L128.75,209.7 L129.25,209.15 L129.85,218.7 L130.45,212.17 L130.72,213.31 L131.32,201.15 L131.92,209.9 L132.08,209.72 L132.68,217.57 L133.28,213.13 L133.33,213.06 L133.81,205.11 L134.41,210.19 L134.91,209.63 L135.51,216.44 L136.11,212.04 L136.38,213.85 L136.98,198.89 L137.58,209.59 L137.74,210.85 L138.34,218.13 L138.94,213.44 L139.1,213.92 L139.7,201.15 L140.3,210.16 L140.57,210.91 L141.17,215.3 L141.77,213.3 L141.97,212.26 L142.57,201.15 L143.17,209.56 L143.44,209.67 L144.04,219.83 L144.64,211.62 L145.02,212.33 L145.62,202.85 L146.22,210.23 L146.49,209.86 L147.09,216.44 L147.69,212.99 L147.97,213.85 L148.57,197.76 L149.17,211.06 L149.22,210.99 L149.7,220.96 L150.3,213.34 L150.68,212.03 L151.28,200.02 L151.88,209.75 L152.16,210.77 L152.76,215.87 L153.36,213.12 L153.63,213.57 L154.23,196.06 L154.83,209.74 L154.99,209.9 L155.59,220.96 L156.19,213.26 L156.34,212.4 L156.94,201.72 L157.54,210.16 L157.82,210.34 L158.42,216.44 L159.02,213.28 L159.29,213.55 L159.89,197.76 L160.49,210.56 L160.65,209.95 L161.25,218.7 L161.85,211.55 L162,212.07 L162.6,202.85 L163.2,210.31 L163.48,210.02 L164.08,215.87 L164.68,213.23 L164.73,209.78 L165.21,223.23 L165.81,211.78 L165.86,212.73 L165.77,189.26 L166.37,209.96 L166.42,209.95 L166.68,222.1 L167.28,211.52 L167.68,208.66 L168,213.66 L168.6,207.94 L169.2,211.33 L169.25,209.91 L169.74,213.04 L170.34,212.26 L170.61,213.57 L171.21,202.85 L171.81,210.88 L171.97,210.53 L172.57,224.36 L173.17,212.47 L173.22,213.93 L173.47,198.89 L174.07,211.31 L174.47,210.28 L174.8,209.76 L175.4,215.3 L176,213.27 L176.4,209.39 L176.72,212.87 L177.32,197.76 L177.92,209.78 L177.97,209.45 L178.45,222.1 L179.05,211.63 L179.33,213.76 L179.93,202.85 L180.53,211.11 L180.58,210.4 L181.06,215.3 L181.66,213.17 L181.93,212.84 L182.53,203.42 L183.13,209.9 L183.51,210.67 L184.11,217.57 L184.71,213.25 L184.99,212.35 L185.59,205.68 L186.19,211.2 L186.46,210.01 L187.06,214.17 L187.66,212.18 L187.82,213.08 L188.42,197.76 L189.02,209.69 L189.18,209.58 L189.78,221.53 L190.38,211.51 L190.43,212.62 L190.91,198.32 L191.51,210.41 L191.91,209.45 L192.35,209.57 L192.95,219.83 L193.55,212.47 L193.7,212.15 L194.3,198.32 L194.9,211.01 L195.18,209.3 L195.78,215.3 L196.38,212.21 L196.43,213.53 L196.91,204.55 L197.51,209.53 L197.78,209.75 L198.38,214.74 L198.98,212.85 L199.03,213.22 L199.17,206.81 L199.77,210.87" fill="none" stroke="#2a80c4" stroke-width="0.7" stroke-linejoin="round"/></g>
<g stroke="#404040" stroke-width="0.7"><line x1="264" y1="225.4" x2="264" y2="223.6"/><line x1="264" y1="189.4" x2="264" y2="191.2"/><line x1="283.89" y1="225.4" x2="283.89" y2="223.6"/><line x1="283.89" y1="189.4" x2="283.89" y2="191.2"/><line x1="303.78" y1="225.4" x2="303.78" y2="223.6"/><line x1="303.78" y1="189.4" x2="303.78" y2="191.2"/><line x1="323.67" y1="225.4" x2="323.67" y2="223.6"/><line x1="323.67" y1="189.4" x2="323.67" y2="191.2"/><line x1="343.56" y1="225.4" x2="343.56" y2="223.6"/><line x1="343.56" y1="189.4" x2="343.56" y2="191.2"/><line x1="363.44" y1="225.4" x2="363.44" y2="223.6"/><line x1="363.44" y1="189.4" x2="363.44" y2="191.2"/><line x1="383.33" y1="225.4" x2="383.33" y2="223.6"/><line x1="383.33" y1="189.4" x2="383.33" y2="191.2"/><line x1="403.22" y1="225.4" x2="403.22" y2="223.6"/><line x1="403.22" y1="189.4" x2="403.22" y2="191.2"/><line x1="423.11" y1="225.4" x2="423.11" y2="223.6"/><line x1="423.11" y1="189.4" x2="423.11" y2="191.2"/><line x1="443" y1="225.4" x2="443" y2="223.6"/><line x1="443" y1="189.4" x2="443" y2="191.2"/><line x1="264" y1="222.6" x2="265.8" y2="222.6"/><line x1="443" y1="222.6" x2="441.2" y2="222.6"/><line x1="264" y1="208.9" x2="265.8" y2="208.9"/><line x1="443" y1="208.9" x2="441.2" y2="208.9"/><line x1="264" y1="195.6" x2="265.8" y2="195.6"/><line x1="443" y1="195.6" x2="441.2" y2="195.6"/></g>
<rect x="264" y="189.4" width="179" height="36" fill="none" stroke="#7a7a7a" stroke-width="1"/>
<text transform="translate(264,232.75) scale(1,1.08)" font-size="4.85" fill="#303030" text-anchor="middle">0</text><text transform="translate(283.89,232.75) scale(1,1.08)" font-size="4.85" fill="#303030" text-anchor="middle">100</text><text transform="translate(303.78,232.75) scale(1,1.08)" font-size="4.85" fill="#303030" text-anchor="middle">200</text><text transform="translate(323.67,232.75) scale(1,1.08)" font-size="4.85" fill="#303030" text-anchor="middle">300</text><text transform="translate(343.56,232.75) scale(1,1.08)" font-size="4.85" fill="#303030" text-anchor="middle">400</text><text transform="translate(363.44,232.75) scale(1,1.08)" font-size="4.85" fill="#303030" text-anchor="middle">500</text><text transform="translate(383.33,232.75) scale(1,1.08)" font-size="4.85" fill="#303030" text-anchor="middle">600</text><text transform="translate(403.22,232.75) scale(1,1.08)" font-size="4.85" fill="#303030" text-anchor="middle">700</text><text transform="translate(423.11,232.75) scale(1,1.08)" font-size="4.85" fill="#303030" text-anchor="middle">800</text><text transform="translate(443,232.75) scale(1,1.08)" font-size="4.85" fill="#303030" text-anchor="middle">900</text><text transform="translate(262.1,224.75) scale(1,1.08)" font-size="4.85" fill="#303030" text-anchor="end">-0.2</text><text transform="translate(262.1,211.05) scale(1,1.08)" font-size="4.85" fill="#303030" text-anchor="end">0</text><text transform="translate(262.1,197.75) scale(1,1.08)" font-size="4.85" fill="#303030" text-anchor="end">0.2</text>
<g clip-path="url(#c13)"><path d="M264,214.2 C264.32,214.33 265.28,216.03 265.9,215 C266.52,213.97 267,210.92 267.7,208 C268.4,205.08 269.32,198.82 270.1,197.5 C270.88,196.18 271.58,199.22 272.4,200.1 C273.22,200.98 274.22,201.62 275,202.8 C275.78,203.98 276.28,205.17 277.1,207.2 C277.92,209.23 278.93,213.4 279.9,215 C280.87,216.6 282.1,216.27 282.9,216.8 C283.7,217.33 283.9,219.37 284.7,218.2 C285.5,217.03 286.68,212.08 287.7,209.8 C288.72,207.52 289.85,206.12 290.8,204.5 C291.75,202.88 292.23,200.1 293.4,200.1 C294.57,200.1 296.42,202.45 297.8,204.5 C299.18,206.55 300.68,210.93 301.7,212.4 C302.72,213.87 302.95,213.88 303.9,213.3 C304.85,212.72 306.08,210.13 307.4,208.9 C308.72,207.67 310.48,205.75 311.8,205.9 C313.12,206.05 314.18,208.28 315.3,209.8 C316.42,211.32 317.62,214.18 318.5,215 C319.38,215.82 319.82,214.4 320.6,214.7 C321.38,215 322.47,217.03 323.2,216.8 C323.93,216.57 324.27,217.92 325,213.3 C325.73,208.68 326.73,191.43 327.6,189.1 C328.47,186.77 329.32,197.17 330.2,199.3 C331.08,201.43 331.93,199.28 332.9,201.9 C333.87,204.52 334.98,211.65 336,215 C337.02,218.35 338.07,220.3 339,222 C339.93,223.7 340.73,226.5 341.6,225.2 C342.47,223.9 343.58,217.35 344.2,214.2 C344.82,211.05 344.68,208.65 345.3,206.3 C345.92,203.95 346.97,201.72 347.9,200.1 C348.83,198.48 349.93,198.35 350.9,196.6 C351.87,194.85 352.88,188.87 353.7,189.6 C354.52,190.33 355.02,197.05 355.8,201 C356.58,204.95 357.53,210.67 358.4,213.3 C359.27,215.93 360.03,215.93 361,216.8 C361.97,217.67 363.32,218.8 364.2,218.5 C365.08,218.2 365.52,216.07 366.3,215 C367.08,213.93 368.03,212.38 368.9,212.1 C369.77,211.82 370.62,211.78 371.5,213.3 C372.38,214.82 373.32,219.8 374.2,221.2 C375.08,222.6 375.78,221.7 376.8,221.7 C377.82,221.7 379.43,222.32 380.3,221.2 C381.17,220.08 381.42,219.68 382,215 C382.58,210.32 383.2,197.18 383.8,193.1 C384.4,189.02 384.87,190.35 385.6,190.5 C386.33,190.65 387.33,191.95 388.2,194 C389.07,196.05 389.78,199.88 390.8,202.8 C391.82,205.72 392.98,209.17 394.3,211.5 C395.62,213.83 397.53,216.65 398.7,216.8 C399.87,216.95 400.57,214.15 401.3,212.4 C402.03,210.65 402.32,208.37 403.1,206.3 C403.88,204.23 404.85,201.05 406,200 C407.15,198.95 408.73,198.95 410,200 C411.27,201.05 412.65,203.93 413.6,206.3 C414.55,208.67 414.97,212.52 415.7,214.2 C416.43,215.88 416.9,216.4 418,216.4 C419.1,216.4 421,215.45 422.3,214.2 C423.6,212.95 424.92,210.22 425.8,208.9 C426.68,207.58 426.57,207.78 427.6,206.3 C428.63,204.82 430.68,201.55 432,200 C433.32,198.45 434.92,197.5 435.5,197" fill="none" stroke="#8080ff" stroke-width="0.3" opacity="0.6"/><path d="M264,214.2 C264.32,214.33 265.28,216.03 265.9,215 C266.52,213.97 267,210.92 267.7,208 C268.4,205.08 269.32,198.82 270.1,197.5 C270.88,196.18 271.58,199.22 272.4,200.1 C273.22,200.98 274.22,201.62 275,202.8 C275.78,203.98 276.28,205.17 277.1,207.2 C277.92,209.23 278.93,213.4 279.9,215 C280.87,216.6 282.1,216.27 282.9,216.8 C283.7,217.33 283.9,219.37 284.7,218.2 C285.5,217.03 286.68,212.08 287.7,209.8 C288.72,207.52 289.85,206.12 290.8,204.5 C291.75,202.88 292.23,200.1 293.4,200.1 C294.57,200.1 296.42,202.45 297.8,204.5 C299.18,206.55 300.68,210.93 301.7,212.4 C302.72,213.87 302.95,213.88 303.9,213.3 C304.85,212.72 306.08,210.13 307.4,208.9 C308.72,207.67 310.48,205.75 311.8,205.9 C313.12,206.05 314.18,208.28 315.3,209.8 C316.42,211.32 317.62,214.18 318.5,215 C319.38,215.82 319.82,214.4 320.6,214.7 C321.38,215 322.47,217.03 323.2,216.8 C323.93,216.57 324.27,217.92 325,213.3 C325.73,208.68 326.73,191.43 327.6,189.1 C328.47,186.77 329.32,197.17 330.2,199.3 C331.08,201.43 331.93,199.28 332.9,201.9 C333.87,204.52 334.98,211.65 336,215 C337.02,218.35 338.07,220.3 339,222 C339.93,223.7 340.73,226.5 341.6,225.2 C342.47,223.9 343.58,217.35 344.2,214.2 C344.82,211.05 344.68,208.65 345.3,206.3 C345.92,203.95 346.97,201.72 347.9,200.1 C348.83,198.48 349.93,198.35 350.9,196.6 C351.87,194.85 352.88,188.87 353.7,189.6 C354.52,190.33 355.02,197.05 355.8,201 C356.58,204.95 357.53,210.67 358.4,213.3 C359.27,215.93 360.03,215.93 361,216.8 C361.97,217.67 363.32,218.8 364.2,218.5 C365.08,218.2 365.52,216.07 366.3,215 C367.08,213.93 368.03,212.38 368.9,212.1 C369.77,211.82 370.62,211.78 371.5,213.3 C372.38,214.82 373.32,219.8 374.2,221.2 C375.08,222.6 375.78,221.7 376.8,221.7 C377.82,221.7 379.43,222.32 380.3,221.2 C381.17,220.08 381.42,219.68 382,215 C382.58,210.32 383.2,197.18 383.8,193.1 C384.4,189.02 384.87,190.35 385.6,190.5 C386.33,190.65 387.33,191.95 388.2,194 C389.07,196.05 389.78,199.88 390.8,202.8 C391.82,205.72 392.98,209.17 394.3,211.5 C395.62,213.83 397.53,216.65 398.7,216.8 C399.87,216.95 400.57,214.15 401.3,212.4 C402.03,210.65 402.32,208.37 403.1,206.3 C403.88,204.23 404.85,201.05 406,200 C407.15,198.95 408.73,198.95 410,200 C411.27,201.05 412.65,203.93 413.6,206.3 C414.55,208.67 414.97,212.52 415.7,214.2 C416.43,215.88 416.9,216.4 418,216.4 C419.1,216.4 421,215.45 422.3,214.2 C423.6,212.95 424.92,210.22 425.8,208.9 C426.68,207.58 426.57,207.78 427.6,206.3 C428.63,204.82 430.68,201.55 432,200 C433.32,198.45 434.92,197.5 435.5,197" fill="none" stroke="#f42424" stroke-width="0.7"/></g>
<rect x="396.1" y="192.4" width="42.3" height="13.1" fill="#fff" stroke="#808080" stroke-width="0.85"/>
<line x1="398" y1="195.8" x2="415.1" y2="195.8" stroke="#3a3af5" stroke-width="0.7"/>
<text transform="translate(416.1,197.55) scale(1,1.08)" font-size="4.55" fill="#222">Truth</text>
<line x1="398" y1="202.15" x2="415.1" y2="202.15" stroke="#f03a3a" stroke-width="0.7"/>
<text transform="translate(416.1,203.9) scale(1,1.08)" font-size="4.55" fill="#222">Prediction</text>
<g stroke="#404040" stroke-width="0.7"><line x1="500.5" y1="225.4" x2="500.5" y2="223.6"/><line x1="500.5" y1="189.4" x2="500.5" y2="191.2"/><line x1="520.44" y1="225.4" x2="520.44" y2="223.6"/><line x1="520.44" y1="189.4" x2="520.44" y2="191.2"/><line x1="540.39" y1="225.4" x2="540.39" y2="223.6"/><line x1="540.39" y1="189.4" x2="540.39" y2="191.2"/><line x1="560.33" y1="225.4" x2="560.33" y2="223.6"/><line x1="560.33" y1="189.4" x2="560.33" y2="191.2"/><line x1="580.28" y1="225.4" x2="580.28" y2="223.6"/><line x1="580.28" y1="189.4" x2="580.28" y2="191.2"/><line x1="600.22" y1="225.4" x2="600.22" y2="223.6"/><line x1="600.22" y1="189.4" x2="600.22" y2="191.2"/><line x1="620.17" y1="225.4" x2="620.17" y2="223.6"/><line x1="620.17" y1="189.4" x2="620.17" y2="191.2"/><line x1="640.11" y1="225.4" x2="640.11" y2="223.6"/><line x1="640.11" y1="189.4" x2="640.11" y2="191.2"/><line x1="660.06" y1="225.4" x2="660.06" y2="223.6"/><line x1="660.06" y1="189.4" x2="660.06" y2="191.2"/><line x1="680" y1="225.4" x2="680" y2="223.6"/><line x1="680" y1="189.4" x2="680" y2="191.2"/><line x1="500.5" y1="222.6" x2="502.3" y2="222.6"/><line x1="680" y1="222.6" x2="678.2" y2="222.6"/><line x1="500.5" y1="208.9" x2="502.3" y2="208.9"/><line x1="680" y1="208.9" x2="678.2" y2="208.9"/><line x1="500.5" y1="195.6" x2="502.3" y2="195.6"/><line x1="680" y1="195.6" x2="678.2" y2="195.6"/></g>
<rect x="500.5" y="189.4" width="179.5" height="36" fill="none" stroke="#7a7a7a" stroke-width="1"/>
<text transform="translate(500.5,232.75) scale(1,1.08)" font-size="4.85" fill="#303030" text-anchor="middle">0</text><text transform="translate(520.44,232.75) scale(1,1.08)" font-size="4.85" fill="#303030" text-anchor="middle">100</text><text transform="translate(540.39,232.75) scale(1,1.08)" font-size="4.85" fill="#303030" text-anchor="middle">200</text><text transform="translate(560.33,232.75) scale(1,1.08)" font-size="4.85" fill="#303030" text-anchor="middle">300</text><text transform="translate(580.28,232.75) scale(1,1.08)" font-size="4.85" fill="#303030" text-anchor="middle">400</text><text transform="translate(600.22,232.75) scale(1,1.08)" font-size="4.85" fill="#303030" text-anchor="middle">500</text><text transform="translate(620.17,232.75) scale(1,1.08)" font-size="4.85" fill="#303030" text-anchor="middle">600</text><text transform="translate(640.11,232.75) scale(1,1.08)" font-size="4.85" fill="#303030" text-anchor="middle">700</text><text transform="translate(660.06,232.75) scale(1,1.08)" font-size="4.85" fill="#303030" text-anchor="middle">800</text><text transform="translate(680,232.75) scale(1,1.08)" font-size="4.85" fill="#303030" text-anchor="middle">900</text><text transform="translate(498.6,224.75) scale(1,1.08)" font-size="4.85" fill="#303030" text-anchor="end">-0.2</text><text transform="translate(498.6,211.05) scale(1,1.08)" font-size="4.85" fill="#303030" text-anchor="end">0</text><text transform="translate(498.6,197.75) scale(1,1.08)" font-size="4.85" fill="#303030" text-anchor="end">0.2</text>
<g clip-path="url(#c23)"><path d="M502.5,214.2 C502.82,214.33 503.78,216.03 504.4,215 C505.02,213.97 505.5,210.92 506.2,208 C506.9,205.08 507.82,198.82 508.6,197.5 C509.38,196.18 510.08,199.22 510.9,200.1 C511.72,200.98 512.72,201.62 513.5,202.8 C514.28,203.98 514.78,205.17 515.6,207.2 C516.42,209.23 517.43,213.4 518.4,215 C519.37,216.6 520.6,216.27 521.4,216.8 C522.2,217.33 522.4,219.37 523.2,218.2 C524,217.03 525.18,212.08 526.2,209.8 C527.22,207.52 528.35,206.12 529.3,204.5 C530.25,202.88 530.73,200.1 531.9,200.1 C533.07,200.1 534.92,202.45 536.3,204.5 C537.68,206.55 539.18,210.93 540.2,212.4 C541.22,213.87 541.45,213.88 542.4,213.3 C543.35,212.72 544.58,210.13 545.9,208.9 C547.22,207.67 548.98,205.75 550.3,205.9 C551.62,206.05 552.68,208.28 553.8,209.8 C554.92,211.32 556.12,214.18 557,215 C557.88,215.82 558.32,214.4 559.1,214.7 C559.88,215 560.97,217.03 561.7,216.8 C562.43,216.57 562.77,217.92 563.5,213.3 C564.23,208.68 565.23,191.43 566.1,189.1 C566.97,186.77 567.82,197.17 568.7,199.3 C569.58,201.43 570.43,199.28 571.4,201.9 C572.37,204.52 573.48,211.65 574.5,215 C575.52,218.35 576.57,220.3 577.5,222 C578.43,223.7 579.23,226.5 580.1,225.2 C580.97,223.9 582.08,217.35 582.7,214.2 C583.32,211.05 583.18,208.65 583.8,206.3 C584.42,203.95 585.47,201.72 586.4,200.1 C587.33,198.48 588.43,198.35 589.4,196.6 C590.37,194.85 591.38,188.87 592.2,189.6 C593.02,190.33 593.52,197.05 594.3,201 C595.08,204.95 596.03,210.67 596.9,213.3 C597.77,215.93 598.53,215.93 599.5,216.8 C600.47,217.67 601.82,218.8 602.7,218.5 C603.58,218.2 604.02,216.07 604.8,215 C605.58,213.93 606.53,212.38 607.4,212.1 C608.27,211.82 609.12,211.78 610,213.3 C610.88,214.82 611.82,219.8 612.7,221.2 C613.58,222.6 614.28,221.7 615.3,221.7 C616.32,221.7 617.93,222.32 618.8,221.2 C619.67,220.08 619.92,219.68 620.5,215 C621.08,210.32 621.7,197.18 622.3,193.1 C622.9,189.02 623.37,190.35 624.1,190.5 C624.83,190.65 625.83,191.95 626.7,194 C627.57,196.05 628.28,199.88 629.3,202.8 C630.32,205.72 631.48,209.17 632.8,211.5 C634.12,213.83 636.03,216.65 637.2,216.8 C638.37,216.95 639.07,214.15 639.8,212.4 C640.53,210.65 640.82,208.37 641.6,206.3 C642.38,204.23 643.35,201.05 644.5,200 C645.65,198.95 647.23,198.95 648.5,200 C649.77,201.05 651.15,203.93 652.1,206.3 C653.05,208.67 653.47,212.52 654.2,214.2 C654.93,215.88 655.4,216.4 656.5,216.4 C657.6,216.4 659.5,215.45 660.8,214.2 C662.1,212.95 663.42,210.22 664.3,208.9 C665.18,207.58 665.07,207.78 666.1,206.3 C667.13,204.82 669.18,201.55 670.5,200 C671.82,198.45 673.42,197.5 674,197" fill="none" stroke="#3434f4" stroke-width="0.66"/><path d="M500.5,214.2 C500.82,214.33 501.78,216.03 502.4,215 C503.02,213.97 503.5,210.92 504.2,208 C504.9,205.08 505.82,198.82 506.6,197.5 C507.38,196.18 508.08,199.22 508.9,200.1 C509.72,200.98 510.72,201.62 511.5,202.8 C512.28,203.98 512.78,205.17 513.6,207.2 C514.42,209.23 515.43,213.4 516.4,215 C517.37,216.6 518.6,216.27 519.4,216.8 C520.2,217.33 520.4,219.37 521.2,218.2 C522,217.03 523.18,212.08 524.2,209.8 C525.22,207.52 526.35,206.12 527.3,204.5 C528.25,202.88 528.73,200.1 529.9,200.1 C531.07,200.1 532.92,202.45 534.3,204.5 C535.68,206.55 537.18,210.93 538.2,212.4 C539.22,213.87 539.45,213.88 540.4,213.3 C541.35,212.72 542.58,210.13 543.9,208.9 C545.22,207.67 546.98,205.75 548.3,205.9 C549.62,206.05 550.68,208.28 551.8,209.8 C552.92,211.32 554.12,214.18 555,215 C555.88,215.82 556.32,214.4 557.1,214.7 C557.88,215 558.97,217.03 559.7,216.8 C560.43,216.57 560.77,217.92 561.5,213.3 C562.23,208.68 563.23,191.43 564.1,189.1 C564.97,186.77 565.82,197.17 566.7,199.3 C567.58,201.43 568.43,199.28 569.4,201.9 C570.37,204.52 571.48,211.65 572.5,215 C573.52,218.35 574.57,220.3 575.5,222 C576.43,223.7 577.23,226.5 578.1,225.2 C578.97,223.9 580.08,217.35 580.7,214.2 C581.32,211.05 581.18,208.65 581.8,206.3 C582.42,203.95 583.47,201.72 584.4,200.1 C585.33,198.48 586.43,198.35 587.4,196.6 C588.37,194.85 589.38,188.87 590.2,189.6 C591.02,190.33 591.52,197.05 592.3,201 C593.08,204.95 594.03,210.67 594.9,213.3 C595.77,215.93 596.53,215.93 597.5,216.8 C598.47,217.67 599.82,218.8 600.7,218.5 C601.58,218.2 602.02,216.07 602.8,215 C603.58,213.93 604.53,212.38 605.4,212.1 C606.27,211.82 607.12,211.78 608,213.3 C608.88,214.82 609.82,219.8 610.7,221.2 C611.58,222.6 612.28,221.7 613.3,221.7 C614.32,221.7 615.93,222.32 616.8,221.2 C617.67,220.08 617.92,219.68 618.5,215 C619.08,210.32 619.7,197.18 620.3,193.1 C620.9,189.02 621.37,190.35 622.1,190.5 C622.83,190.65 623.83,191.95 624.7,194 C625.57,196.05 626.28,199.88 627.3,202.8 C628.32,205.72 629.48,209.17 630.8,211.5 C632.12,213.83 634.03,216.65 635.2,216.8 C636.37,216.95 637.07,214.15 637.8,212.4 C638.53,210.65 638.82,208.37 639.6,206.3 C640.38,204.23 641.35,201.05 642.5,200 C643.65,198.95 645.23,198.95 646.5,200 C647.77,201.05 649.15,203.93 650.1,206.3 C651.05,208.67 651.47,212.52 652.2,214.2 C652.93,215.88 653.4,216.4 654.5,216.4 C655.6,216.4 657.5,215.45 658.8,214.2 C660.1,212.95 661.42,210.22 662.3,208.9 C663.18,207.58 663.07,207.78 664.1,206.3 C665.13,204.82 667.18,201.55 668.5,200 C669.82,198.45 671.42,197.5 672,197" fill="none" stroke="#f42424" stroke-width="0.66"/></g>
<rect x="622.5" y="192.4" width="52.9" height="13.1" fill="#fff" stroke="#808080" stroke-width="0.85"/>
<line x1="624.4" y1="195.8" x2="641.5" y2="195.8" stroke="#3a3af5" stroke-width="0.7"/>
<text transform="translate(642.5,197.55) scale(1,1.08)" font-size="4.55" fill="#222">Truth (Delayed)</text>
<line x1="624.4" y1="202.15" x2="641.5" y2="202.15" stroke="#f03a3a" stroke-width="0.7"/>
<text transform="translate(642.5,203.9) scale(1,1.08)" font-size="4.55" fill="#222">Prediction</text>
<g stroke="#404040" stroke-width="0.7"><line x1="27.5" y1="284.75" x2="27.5" y2="282.95"/><line x1="27.5" y1="249.1" x2="27.5" y2="250.9"/><line x1="47.39" y1="284.75" x2="47.39" y2="282.95"/><line x1="47.39" y1="249.1" x2="47.39" y2="250.9"/><line x1="67.28" y1="284.75" x2="67.28" y2="282.95"/><line x1="67.28" y1="249.1" x2="67.28" y2="250.9"/><line x1="87.17" y1="284.75" x2="87.17" y2="282.95"/><line x1="87.17" y1="249.1" x2="87.17" y2="250.9"/><line x1="107.06" y1="284.75" x2="107.06" y2="282.95"/><line x1="107.06" y1="249.1" x2="107.06" y2="250.9"/><line x1="126.94" y1="284.75" x2="126.94" y2="282.95"/><line x1="126.94" y1="249.1" x2="126.94" y2="250.9"/><line x1="146.83" y1="284.75" x2="146.83" y2="282.95"/><line x1="146.83" y1="249.1" x2="146.83" y2="250.9"/><line x1="166.72" y1="284.75" x2="166.72" y2="282.95"/><line x1="166.72" y1="249.1" x2="166.72" y2="250.9"/><line x1="186.61" y1="284.75" x2="186.61" y2="282.95"/><line x1="186.61" y1="249.1" x2="186.61" y2="250.9"/><line x1="206.5" y1="284.75" x2="206.5" y2="282.95"/><line x1="206.5" y1="249.1" x2="206.5" y2="250.9"/><line x1="27.5" y1="284.75" x2="29.3" y2="284.75"/><line x1="206.5" y1="284.75" x2="204.7" y2="284.75"/><line x1="27.5" y1="269.2" x2="29.3" y2="269.2"/><line x1="206.5" y1="269.2" x2="204.7" y2="269.2"/><line x1="27.5" y1="253.7" x2="29.3" y2="253.7"/><line x1="206.5" y1="253.7" x2="204.7" y2="253.7"/></g>
<rect x="27.5" y="249.1" width="179" height="35.65" fill="none" stroke="#7a7a7a" stroke-width="1"/>
<text transform="translate(27.5,291.6) scale(1,1.08)" font-size="4.85" fill="#303030" text-anchor="middle">0</text><text transform="translate(47.39,291.6) scale(1,1.08)" font-size="4.85" fill="#303030" text-anchor="middle">1000</text><text transform="translate(67.28,291.6) scale(1,1.08)" font-size="4.85" fill="#303030" text-anchor="middle">2000</text><text transform="translate(87.17,291.6) scale(1,1.08)" font-size="4.85" fill="#303030" text-anchor="middle">3000</text><text transform="translate(107.06,291.6) scale(1,1.08)" font-size="4.85" fill="#303030" text-anchor="middle">4000</text><text transform="translate(126.94,291.6) scale(1,1.08)" font-size="4.85" fill="#303030" text-anchor="middle">5000</text><text transform="translate(146.83,291.6) scale(1,1.08)" font-size="4.85" fill="#303030" text-anchor="middle">6000</text><text transform="translate(166.72,291.6) scale(1,1.08)" font-size="4.85" fill="#303030" text-anchor="middle">7000</text><text transform="translate(186.61,291.6) scale(1,1.08)" font-size="4.85" fill="#303030" text-anchor="middle">8000</text><text transform="translate(206.5,291.6) scale(1,1.08)" font-size="4.85" fill="#303030" text-anchor="middle">9000</text><text transform="translate(25.6,286.9) scale(1,1.08)" font-size="4.85" fill="#303030" text-anchor="end">-1</text><text transform="translate(25.6,271.35) scale(1,1.08)" font-size="4.85" fill="#303030" text-anchor="end">0</text><text transform="translate(25.6,255.85) scale(1,1.08)" font-size="4.85" fill="#303030" text-anchor="end">1</text>
<g clip-path="url(#c04)"><path d="M26.91,270.95 L27.36,263.98 L27.81,267.72 L28.01,266.97 L28.21,271.7 L28.38,267.22 L28.83,273.04 L29.28,271.04 L29.48,268.37 L29.68,270.83 L29.88,266.7 L30.08,271 L30.53,263.98 L30.98,267.4 L31.18,268.21 L31.38,270.83 L31.58,267.97 L31.78,267.61 L32.23,274.17 L32.68,270.35 L32.88,268.4 L33.08,270.37 L33.25,270.26 L33.7,260.59 L34.15,267.37 L34.35,267.03 L34.55,270.27 L34.83,267.11 L35.28,277.57 L35.73,269.48 L35.97,270.93 L36.42,256.96 L36.87,268.95 L36.92,268.7 L37.09,274.17 L37.54,270.94 L37.59,270.12 L37.89,262.85 L38.34,268.77 L38.54,266.63 L38.74,271.57 L38.91,268.12 L39.36,280.4 L39.81,271.12 L39.86,270.78 L40.15,258.89 L40.6,267.84 L40.83,268.29 L41.28,276.44 L41.73,271.08 L41.93,267.16 L42.13,271.74 L42.31,271.49 L42.76,262.85 L43.21,268.6 L43.41,267.76 L43.66,268.37 L44.11,277.57 L44.56,269.49 L44.8,269.83 L45.25,258.32 L45.7,268.6 L45.9,267.32 L46.1,269.99 L46.3,267.19 L46.49,268.02 L46.94,274.17 L47.39,269.82 L47.63,271.34 L48.08,261.72 L48.53,268.24 L48.73,267.85 L48.93,270.86 L49.13,267.14 L49.33,270.08 L49.55,266.75 L50,279.83 L50.45,269.25 L50.5,271.2 L50.68,257.76 L51.13,267.51 L51.33,268.39 L51.53,271.41 L51.82,267.97 L52.27,275.3 L52.72,270.36 L52.72,269.72 L53.17,261.72 L53.62,269.11 L53.82,268.09 L54.02,271.72 L54.22,268.06 L54.42,271.36 L54.62,266.73 L54.76,266.82 L55.21,277.57 L55.66,269.89 L55.89,270.41 L56.34,258.89 L56.79,268.15 L56.99,267.01 L57.19,270.18 L57.48,267.2 L57.93,275.3 L58.38,270.79 L58.58,266.86 L58.78,270.05 L58.95,271.59 L59.4,261.72 L59.85,269.02 L60.05,267.8 L60.25,271.09 L60.45,266.75 L60.65,268.02 L61.1,279.27 L61.55,271.05 L61.78,270.79 L62.23,257.19 L62.68,268.58 L62.88,267.84 L63.08,270.3 L63.28,268.28 L63.48,268.4 L63.93,274.17 L64.38,270.58 L64.61,271.69 L65.06,261.72 L65.51,268.88 L65.71,268.33 L65.91,271.78 L66.08,267.63 L66.53,276.44 L66.98,270.01 L67.18,267.99 L67.38,271.06 L67.66,271.35 L68.11,258.32 L68.56,268.29 L68.76,267.65 L68.96,270.08 L69.14,266.87 L69.59,274.17 L70.04,269.27 L70.24,267.52 L70.44,271.51 L70.61,269.96 L71.06,262.85 L71.51,267.74 L71.71,266.69 L71.97,267.44 L72.42,277.57 L72.87,270.78 L73.1,269.91 L73.55,259.45 L74,268.33 L74.2,268.15 L74.4,271.52 L74.6,267.88 L74.8,267.79 L75.25,274.17 L75.7,271.2 L75.93,271.4 L76.38,262.28 L76.83,267.25 L77.03,267.59 L77.23,270.87 L77.43,267.09 L77.63,267.74 L78.08,276.44 L78.53,269.78 L78.76,270.51 L79.21,260.02 L79.66,268.91 L79.86,267.73 L80.06,271.78 L80.26,266.67 L80.46,267.45 L80.91,275.3 L81.36,270.2 L81.59,270.38 L82.04,262.85 L82.49,269.02 L82.69,267.92 L82.89,271.4 L83.09,266.84 L83.29,267.98 L83.74,277.57 L84.19,270.77 L84.39,267.01 L84.65,271.09 L85.1,257.76 L85.55,267.87 L85.75,267.04 L86.04,267.97 L86.49,273.04 L86.94,270.61 L87.14,267.91 L87.34,270.86 L87.51,271.24 L87.96,266.25 L88.41,267.82 L88.61,267.89 L88.81,271.7 L88.98,267.4 L89.43,275.3 L89.88,270.36 L90.12,268.68 L90.57,279.27 L91.02,270.29 L91.07,270.2 L91.02,256.62 L91.47,267.86 L91.67,267.58 L91.87,271.47 L92.04,267.41 L92.49,273.6 L92.94,270.8 L93.17,270.4 L93.62,261.72 L94.07,267.91 L94.27,267.08 L94.47,271.49 L94.67,267.78 L94.87,267.01 L95.32,276.44 L95.77,270.94 L96,267.32 L96.45,277.57 L96.9,271.15 L96.95,271.61 L96.68,256.62 L97.13,268.16 L97.33,267.46 L97.53,270.28 L97.73,266.9 L97.93,271.69 L98.04,267.75 L98.49,274.17 L98.94,270.58 L99.17,271.14 L99.62,262.85 L100.07,267.74 L100.27,268.11 L100.47,271.4 L100.76,267.54 L101.21,275.3 L101.66,270.53 L101.66,267.86 L102.11,277.57 L102.56,270.45 L102.61,271.25 L102.34,258.89 L102.79,267.93 L102.99,267.11 L103.19,270.03 L103.39,268.13 L103.59,270.78 L103.7,267.4 L104.15,274.17 L104.6,269.64 L104.83,271.07 L105.28,261.15 L105.73,267.94 L105.93,268.34 L106.13,270.84 L106.33,268.01 L106.53,270.08 L106.76,268.43 L107.21,278.13 L107.66,269.83 L107.89,270.06 L108.34,257.76 L108.79,268.81 L108.99,268.36 L109.19,270.83 L109.36,267.94 L109.81,274.17 L110.26,270.42 L110.46,267.35 L110.72,270.18 L111.17,261.72 L111.62,267.39 L111.82,268.42 L112.02,270.72 L112.22,267.91 L112.42,267.88 L112.87,279.27 L113.32,269.43 L113.55,271.36 L114,256.06 L114.45,268.45 L114.65,268.35 L114.85,271.1 L115.02,268.51 L115.47,274.17 L115.92,270.29 L116.12,267.8 L116.38,270.86 L116.83,261.15 L117.28,267.28 L117.48,266.93 L117.68,270.74 L117.88,266.94 L118.08,267.42 L118.53,278.13 L118.98,269.94 L119.21,269.98 L119.66,258.32 L120.11,268.01 L120.31,267.39 L120.51,271.72 L120.71,266.66 L120.91,267.48 L121.36,279.27 L121.81,269.9 L122.04,271.49 L122.49,262.85 L122.94,269.2 L123.14,268.22 L123.4,267.57 L123.85,274.17 L124.3,270.43 L124.5,268.16 L124.7,271.13 L124.87,271.48 L125.32,257.76 L125.77,268.45 L125.97,267.63 L126.17,270.39 L126.34,268.12 L126.79,277 L127.24,271.14 L127.44,267.73 L127.7,271.62 L128.15,262.28 L128.6,267.37 L128.8,267.34 L129,270.45 L129.2,266.63 L129.4,267.71 L129.85,274.17 L130.3,270.03 L130.5,267.84 L130.7,271.77 L130.87,270.68 L131.32,258.89 L131.77,268.63 L131.97,267.55 L132.23,268.46 L132.68,276.44 L133.13,270.44 L133.36,270.59 L133.81,262.85 L134.26,268.61 L134.46,267 L134.66,271.48 L134.86,268.4 L135.06,267.63 L135.51,274.17 L135.96,269.75 L136.16,266.72 L136.36,271.4 L136.53,270.19 L136.98,257.19 L137.43,268.66 L137.67,268.39 L138.12,277 L138.57,271.18 L138.77,267.89 L138.97,271.09 L139.25,270.65 L139.7,261.15 L140.15,267.91 L140.35,267.32 L140.55,271.33 L140.72,268.46 L141.17,274.17 L141.62,270.72 L141.82,267.87 L142.02,270.95 L142.22,267.81 L142.42,270.29 L142.87,262.85 L143.32,268.14 L143.52,267.57 L143.81,267.98 L144.26,276.44 L144.71,270.69 L144.91,267.34 L145.17,269.77 L145.62,262.85 L146.07,268.7 L146.27,267.59 L146.47,271.65 L146.64,266.92 L147.09,273.6 L147.54,270.29 L147.74,268.39 L147.94,271.4 L148.12,270.56 L148.57,257.19 L149.02,268.05 L149.22,267.13 L149.47,267.44 L149.92,277.57 L150.37,270.16 L150.57,266.76 L150.83,270.47 L151.28,262.28 L151.73,268.42 L151.93,266.87 L152.13,270.34 L152.31,268.11 L152.76,274.17 L153.21,270.86 L153.41,268.3 L153.61,271.5 L153.78,271.09 L154.23,256.96 L154.68,268.33 L154.91,268.13 L155.36,276.44 L155.81,270.76 L156.01,266.76 L156.21,270.24 L156.49,270.66 L156.94,261.72 L157.39,268.1 L157.59,267.51 L157.79,270.58 L157.97,268.39 L158.42,273.6 L158.87,270.37 L159.1,267.08 L159.55,277.57 L160,269.34 L160.05,270.16 L159.89,257.76 L160.34,267.56 L160.54,266.98 L160.8,267.37 L161.25,275.3 L161.7,269.25 L161.9,267.1 L162.15,271.66 L162.6,262.28 L163.05,267.2 L163.25,267.14 L163.45,270.07 L163.63,267.02 L164.08,273.6 L164.53,269.64 L164.73,267.24 L164.93,271.71 L165.1,267.28 L165.55,282.1 L166,269.47 L166.05,270.28 L165.77,249.26 L166.22,267.36 L166.42,268.15 L166.68,267.48 L167.13,276.44 L167.58,270.03 L167.82,270.02 L168.27,267.38 L168.72,267.96 L168.92,268.34 L169.12,270.18 L169.29,267.94 L169.74,271.34 L170.19,269.34 L170.39,268.32 L170.59,271.03 L170.79,267.07 L170.99,271.58 L171.21,269.97 L171.66,262.28 L172.11,268.34 L172.12,268.07 L172.57,282.1 L173.02,270.4 L173.02,270.68 L173.47,258.32 L173.92,267.32 L174.12,267.74 L174.32,270.08 L174.52,267.15 L174.72,270.26 L174.95,267.44 L175.4,274.17 L175.85,270.21 L176.05,266.76 L176.25,270.99 L176.45,267.29 L176.65,270.46 L176.87,270.8 L177.32,258.89 L177.77,268.69 L178,267.2 L178.45,275.3 L178.9,270.23 L179.14,269.97 L179.59,263.98 L180.04,268.73 L180.24,267.74 L180.44,271.32 L180.61,268.34 L181.06,273.6 L181.51,270.63 L181.71,267.23 L181.91,270.14 L182.11,267.2 L182.31,269.88 L182.76,261.72 L183.21,268.95 L183.41,267.34 L183.66,268.22 L184.11,274.17 L184.56,270.95 L184.76,267.55 L184.96,270.57 L185.14,271.29 L185.59,265.11 L186.04,269.14 L186.24,267.1 L186.44,270.08 L186.61,268.4 L187.06,273.04 L187.51,271.1 L187.71,267.18 L187.97,270.15 L188.42,258.32 L188.87,268.97 L188.92,266.75 L188.42,276.44 L188.87,270.53 L189.07,266.93 L189.27,270.23 L189.47,267.28 L189.67,267.99 L190.12,274.17 L190.57,269.67 L190.8,270.37 L191.25,261.72 L191.7,267.97 L191.9,267.79 L192.1,270.68 L192.3,268.17 L192.5,271.49 L192.72,267.4 L193.17,275.3 L193.62,270.81 L193.85,270.57 L194.3,258.89 L194.75,267.5 L194.95,267.48 L195.15,271.06 L195.35,267.38 L195.55,271.33 L195.67,267.91 L196.12,273.6 L196.57,269.39 L196.77,268.36 L197.02,270.1 L197.47,263.42 L197.92,269.12 L198.16,266.92 L198.61,271.91 L199.06,270.16" fill="none" stroke="#1f74bb" stroke-width="0.72" stroke-linejoin="round"/></g>
<g stroke="#404040" stroke-width="0.7"><line x1="264" y1="284.75" x2="264" y2="282.95"/><line x1="264" y1="249.1" x2="264" y2="250.9"/><line x1="283.89" y1="284.75" x2="283.89" y2="282.95"/><line x1="283.89" y1="249.1" x2="283.89" y2="250.9"/><line x1="303.78" y1="284.75" x2="303.78" y2="282.95"/><line x1="303.78" y1="249.1" x2="303.78" y2="250.9"/><line x1="323.67" y1="284.75" x2="323.67" y2="282.95"/><line x1="323.67" y1="249.1" x2="323.67" y2="250.9"/><line x1="343.56" y1="284.75" x2="343.56" y2="282.95"/><line x1="343.56" y1="249.1" x2="343.56" y2="250.9"/><line x1="363.44" y1="284.75" x2="363.44" y2="282.95"/><line x1="363.44" y1="249.1" x2="363.44" y2="250.9"/><line x1="383.33" y1="284.75" x2="383.33" y2="282.95"/><line x1="383.33" y1="249.1" x2="383.33" y2="250.9"/><line x1="403.22" y1="284.75" x2="403.22" y2="282.95"/><line x1="403.22" y1="249.1" x2="403.22" y2="250.9"/><line x1="423.11" y1="284.75" x2="423.11" y2="282.95"/><line x1="423.11" y1="249.1" x2="423.11" y2="250.9"/><line x1="443" y1="284.75" x2="443" y2="282.95"/><line x1="443" y1="249.1" x2="443" y2="250.9"/><line x1="264" y1="283.8" x2="265.8" y2="283.8"/><line x1="443" y1="283.8" x2="441.2" y2="283.8"/><line x1="264" y1="268.9" x2="265.8" y2="268.9"/><line x1="443" y1="268.9" x2="441.2" y2="268.9"/><line x1="264" y1="254" x2="265.8" y2="254"/><line x1="443" y1="254" x2="441.2" y2="254"/></g>
<rect x="264" y="249.1" width="179" height="35.65" fill="none" stroke="#7a7a7a" stroke-width="1"/>
<text transform="translate(264,291.6) scale(1,1.08)" font-size="4.85" fill="#303030" text-anchor="middle">0</text><text transform="translate(283.89,291.6) scale(1,1.08)" font-size="4.85" fill="#303030" text-anchor="middle">100</text><text transform="translate(303.78,291.6) scale(1,1.08)" font-size="4.85" fill="#303030" text-anchor="middle">200</text><text transform="translate(323.67,291.6) scale(1,1.08)" font-size="4.85" fill="#303030" text-anchor="middle">300</text><text transform="translate(343.56,291.6) scale(1,1.08)" font-size="4.85" fill="#303030" text-anchor="middle">400</text><text transform="translate(363.44,291.6) scale(1,1.08)" font-size="4.85" fill="#303030" text-anchor="middle">500</text><text transform="translate(383.33,291.6) scale(1,1.08)" font-size="4.85" fill="#303030" text-anchor="middle">600</text><text transform="translate(403.22,291.6) scale(1,1.08)" font-size="4.85" fill="#303030" text-anchor="middle">700</text><text transform="translate(423.11,291.6) scale(1,1.08)" font-size="4.85" fill="#303030" text-anchor="middle">800</text><text transform="translate(443,291.6) scale(1,1.08)" font-size="4.85" fill="#303030" text-anchor="middle">900</text><text transform="translate(262.1,285.95) scale(1,1.08)" font-size="4.85" fill="#303030" text-anchor="end">-0.5</text><text transform="translate(262.1,271.05) scale(1,1.08)" font-size="4.85" fill="#303030" text-anchor="end">0</text><text transform="translate(262.1,256.15) scale(1,1.08)" font-size="4.85" fill="#303030" text-anchor="end">0.5</text>
<g clip-path="url(#c14)"><path d="M264,276.8 C264.23,277.32 264.87,280.2 265.4,279.9 C265.93,279.6 266.62,278.15 267.2,275 C267.78,271.85 268.32,264.27 268.9,261 C269.48,257.73 270.12,255.68 270.7,255.4 C271.28,255.12 271.73,257.2 272.4,259.3 C273.07,261.4 273.82,265.73 274.7,268 C275.58,270.27 276.92,272.37 277.7,272.9 C278.48,273.43 278.73,272.02 279.4,271.2 C280.07,270.38 280.73,267.65 281.7,268 C282.67,268.35 284.12,273.35 285.2,273.3 C286.28,273.25 287.27,268.93 288.2,267.7 C289.13,266.47 289.63,267.17 290.8,265.9 C291.97,264.63 294.03,260.62 295.2,260.1 C296.37,259.58 296.93,260.9 297.8,262.8 C298.67,264.7 299.58,269.12 300.4,271.5 C301.22,273.88 301.9,276.95 302.7,277.1 C303.5,277.25 304.32,274.05 305.2,272.4 C306.08,270.75 306.9,267.98 308,267.2 C309.1,266.42 310.43,268 311.8,267.7 C313.17,267.4 315.03,265.05 316.2,265.4 C317.37,265.75 317.92,267.62 318.8,269.8 C319.68,271.98 320.77,276.05 321.5,278.5 C322.23,280.95 322.57,285.67 323.2,284.5 C323.83,283.33 324.57,277.32 325.3,271.5 C326.03,265.68 326.87,252.22 327.6,249.6 C328.33,246.98 328.97,252.28 329.7,255.8 C330.43,259.32 331.03,267.5 332,270.7 C332.97,273.9 334.4,274.8 335.5,275 C336.6,275.2 337.58,272.03 338.6,271.9 C339.62,271.77 340.52,275.08 341.6,274.2 C342.68,273.32 344.17,267.33 345.1,266.6 C346.03,265.87 346.38,268.98 347.2,269.8 C348.02,270.62 349.18,273.25 350,271.5 C350.82,269.75 351.45,262.22 352.1,259.3 C352.75,256.38 353.23,253.13 353.9,254 C354.57,254.87 355.27,260.12 356.1,264.5 C356.93,268.88 358.08,278.4 358.9,280.3 C359.72,282.2 360.2,277.95 361,275.9 C361.8,273.85 362.67,269.75 363.7,268 C364.73,266.25 366.18,265.83 367.2,265.4 C368.22,264.97 368.93,265.6 369.8,265.4 C370.67,265.2 371.53,263.62 372.4,264.2 C373.27,264.78 374.12,266.65 375,268.9 C375.88,271.15 376.88,275.22 377.7,277.7 C378.52,280.18 379.18,284.83 379.9,283.8 C380.62,282.77 381.3,276.75 382,271.5 C382.7,266.25 383.5,255.95 384.1,252.3 C384.7,248.65 385,248.58 385.6,249.6 C386.2,250.62 386.98,254.75 387.7,258.4 C388.42,262.05 389.18,268.87 389.9,271.5 C390.62,274.13 391.2,274.63 392,274.2 C392.8,273.77 393.88,269.35 394.7,268.9 C395.52,268.45 396.23,270.33 396.9,271.5 C397.57,272.67 398.12,276.18 398.7,275.9 C399.28,275.62 399.82,271.55 400.4,269.8 C400.98,268.05 401.47,265.7 402.2,265.4 C402.93,265.1 404.02,266.98 404.8,268 C405.58,269.02 406.17,271.93 406.9,271.5 C407.63,271.07 408.43,266.98 409.2,265.4 C409.97,263.82 410.77,261.85 411.5,262 C412.23,262.15 412.97,264.27 413.6,266.3 C414.23,268.33 414.72,272.22 415.3,274.2 C415.88,276.18 416.37,278.2 417.1,278.2 C417.83,278.2 418.68,276.18 419.7,274.2 C420.72,272.22 422.12,267.62 423.2,266.3 C424.28,264.98 425.18,265.78 426.2,266.3 C427.22,266.82 428.33,269.25 429.3,269.4 C430.27,269.55 430.97,267.28 432,267.2 C433.03,267.12 434.92,268.62 435.5,268.9" fill="none" stroke="#8080ff" stroke-width="0.3" opacity="0.6"/><path d="M264,276.8 C264.23,277.32 264.87,280.2 265.4,279.9 C265.93,279.6 266.62,278.15 267.2,275 C267.78,271.85 268.32,264.27 268.9,261 C269.48,257.73 270.12,255.68 270.7,255.4 C271.28,255.12 271.73,257.2 272.4,259.3 C273.07,261.4 273.82,265.73 274.7,268 C275.58,270.27 276.92,272.37 277.7,272.9 C278.48,273.43 278.73,272.02 279.4,271.2 C280.07,270.38 280.73,267.65 281.7,268 C282.67,268.35 284.12,273.35 285.2,273.3 C286.28,273.25 287.27,268.93 288.2,267.7 C289.13,266.47 289.63,267.17 290.8,265.9 C291.97,264.63 294.03,260.62 295.2,260.1 C296.37,259.58 296.93,260.9 297.8,262.8 C298.67,264.7 299.58,269.12 300.4,271.5 C301.22,273.88 301.9,276.95 302.7,277.1 C303.5,277.25 304.32,274.05 305.2,272.4 C306.08,270.75 306.9,267.98 308,267.2 C309.1,266.42 310.43,268 311.8,267.7 C313.17,267.4 315.03,265.05 316.2,265.4 C317.37,265.75 317.92,267.62 318.8,269.8 C319.68,271.98 320.77,276.05 321.5,278.5 C322.23,280.95 322.57,285.67 323.2,284.5 C323.83,283.33 324.57,277.32 325.3,271.5 C326.03,265.68 326.87,252.22 327.6,249.6 C328.33,246.98 328.97,252.28 329.7,255.8 C330.43,259.32 331.03,267.5 332,270.7 C332.97,273.9 334.4,274.8 335.5,275 C336.6,275.2 337.58,272.03 338.6,271.9 C339.62,271.77 340.52,275.08 341.6,274.2 C342.68,273.32 344.17,267.33 345.1,266.6 C346.03,265.87 346.38,268.98 347.2,269.8 C348.02,270.62 349.18,273.25 350,271.5 C350.82,269.75 351.45,262.22 352.1,259.3 C352.75,256.38 353.23,253.13 353.9,254 C354.57,254.87 355.27,260.12 356.1,264.5 C356.93,268.88 358.08,278.4 358.9,280.3 C359.72,282.2 360.2,277.95 361,275.9 C361.8,273.85 362.67,269.75 363.7,268 C364.73,266.25 366.18,265.83 367.2,265.4 C368.22,264.97 368.93,265.6 369.8,265.4 C370.67,265.2 371.53,263.62 372.4,264.2 C373.27,264.78 374.12,266.65 375,268.9 C375.88,271.15 376.88,275.22 377.7,277.7 C378.52,280.18 379.18,284.83 379.9,283.8 C380.62,282.77 381.3,276.75 382,271.5 C382.7,266.25 383.5,255.95 384.1,252.3 C384.7,248.65 385,248.58 385.6,249.6 C386.2,250.62 386.98,254.75 387.7,258.4 C388.42,262.05 389.18,268.87 389.9,271.5 C390.62,274.13 391.2,274.63 392,274.2 C392.8,273.77 393.88,269.35 394.7,268.9 C395.52,268.45 396.23,270.33 396.9,271.5 C397.57,272.67 398.12,276.18 398.7,275.9 C399.28,275.62 399.82,271.55 400.4,269.8 C400.98,268.05 401.47,265.7 402.2,265.4 C402.93,265.1 404.02,266.98 404.8,268 C405.58,269.02 406.17,271.93 406.9,271.5 C407.63,271.07 408.43,266.98 409.2,265.4 C409.97,263.82 410.77,261.85 411.5,262 C412.23,262.15 412.97,264.27 413.6,266.3 C414.23,268.33 414.72,272.22 415.3,274.2 C415.88,276.18 416.37,278.2 417.1,278.2 C417.83,278.2 418.68,276.18 419.7,274.2 C420.72,272.22 422.12,267.62 423.2,266.3 C424.28,264.98 425.18,265.78 426.2,266.3 C427.22,266.82 428.33,269.25 429.3,269.4 C430.27,269.55 430.97,267.28 432,267.2 C433.03,267.12 434.92,268.62 435.5,268.9" fill="none" stroke="#f42424" stroke-width="0.7"/></g>
<rect x="396.1" y="252.1" width="42.3" height="13.1" fill="#fff" stroke="#808080" stroke-width="0.85"/>
<line x1="398" y1="255.5" x2="415.1" y2="255.5" stroke="#3a3af5" stroke-width="0.7"/>
<text transform="translate(416.1,257.25) scale(1,1.08)" font-size="4.55" fill="#222">Truth</text>
<line x1="398" y1="261.85" x2="415.1" y2="261.85" stroke="#f03a3a" stroke-width="0.7"/>
<text transform="translate(416.1,263.6) scale(1,1.08)" font-size="4.55" fill="#222">Prediction</text>
<g stroke="#404040" stroke-width="0.7"><line x1="500.5" y1="284.75" x2="500.5" y2="282.95"/><line x1="500.5" y1="249.1" x2="500.5" y2="250.9"/><line x1="520.44" y1="284.75" x2="520.44" y2="282.95"/><line x1="520.44" y1="249.1" x2="520.44" y2="250.9"/><line x1="540.39" y1="284.75" x2="540.39" y2="282.95"/><line x1="540.39" y1="249.1" x2="540.39" y2="250.9"/><line x1="560.33" y1="284.75" x2="560.33" y2="282.95"/><line x1="560.33" y1="249.1" x2="560.33" y2="250.9"/><line x1="580.28" y1="284.75" x2="580.28" y2="282.95"/><line x1="580.28" y1="249.1" x2="580.28" y2="250.9"/><line x1="600.22" y1="284.75" x2="600.22" y2="282.95"/><line x1="600.22" y1="249.1" x2="600.22" y2="250.9"/><line x1="620.17" y1="284.75" x2="620.17" y2="282.95"/><line x1="620.17" y1="249.1" x2="620.17" y2="250.9"/><line x1="640.11" y1="284.75" x2="640.11" y2="282.95"/><line x1="640.11" y1="249.1" x2="640.11" y2="250.9"/><line x1="660.06" y1="284.75" x2="660.06" y2="282.95"/><line x1="660.06" y1="249.1" x2="660.06" y2="250.9"/><line x1="680" y1="284.75" x2="680" y2="282.95"/><line x1="680" y1="249.1" x2="680" y2="250.9"/><line x1="500.5" y1="283.8" x2="502.3" y2="283.8"/><line x1="680" y1="283.8" x2="678.2" y2="283.8"/><line x1="500.5" y1="268.9" x2="502.3" y2="268.9"/><line x1="680" y1="268.9" x2="678.2" y2="268.9"/><line x1="500.5" y1="254" x2="502.3" y2="254"/><line x1="680" y1="254" x2="678.2" y2="254"/></g>
<rect x="500.5" y="249.1" width="179.5" height="35.65" fill="none" stroke="#7a7a7a" stroke-width="1"/>
<text transform="translate(500.5,291.6) scale(1,1.08)" font-size="4.85" fill="#303030" text-anchor="middle">0</text><text transform="translate(520.44,291.6) scale(1,1.08)" font-size="4.85" fill="#303030" text-anchor="middle">100</text><text transform="translate(540.39,291.6) scale(1,1.08)" font-size="4.85" fill="#303030" text-anchor="middle">200</text><text transform="translate(560.33,291.6) scale(1,1.08)" font-size="4.85" fill="#303030" text-anchor="middle">300</text><text transform="translate(580.28,291.6) scale(1,1.08)" font-size="4.85" fill="#303030" text-anchor="middle">400</text><text transform="translate(600.22,291.6) scale(1,1.08)" font-size="4.85" fill="#303030" text-anchor="middle">500</text><text transform="translate(620.17,291.6) scale(1,1.08)" font-size="4.85" fill="#303030" text-anchor="middle">600</text><text transform="translate(640.11,291.6) scale(1,1.08)" font-size="4.85" fill="#303030" text-anchor="middle">700</text><text transform="translate(660.06,291.6) scale(1,1.08)" font-size="4.85" fill="#303030" text-anchor="middle">800</text><text transform="translate(680,291.6) scale(1,1.08)" font-size="4.85" fill="#303030" text-anchor="middle">900</text><text transform="translate(498.6,285.95) scale(1,1.08)" font-size="4.85" fill="#303030" text-anchor="end">-0.5</text><text transform="translate(498.6,271.05) scale(1,1.08)" font-size="4.85" fill="#303030" text-anchor="end">0</text><text transform="translate(498.6,256.15) scale(1,1.08)" font-size="4.85" fill="#303030" text-anchor="end">0.5</text>
<g clip-path="url(#c24)"><path d="M502.5,276.8 C502.73,277.32 503.37,280.2 503.9,279.9 C504.43,279.6 505.12,278.15 505.7,275 C506.28,271.85 506.82,264.27 507.4,261 C507.98,257.73 508.62,255.68 509.2,255.4 C509.78,255.12 510.23,257.2 510.9,259.3 C511.57,261.4 512.32,265.73 513.2,268 C514.08,270.27 515.42,272.37 516.2,272.9 C516.98,273.43 517.23,272.02 517.9,271.2 C518.57,270.38 519.23,267.65 520.2,268 C521.17,268.35 522.62,273.35 523.7,273.3 C524.78,273.25 525.77,268.93 526.7,267.7 C527.63,266.47 528.13,267.17 529.3,265.9 C530.47,264.63 532.53,260.62 533.7,260.1 C534.87,259.58 535.43,260.9 536.3,262.8 C537.17,264.7 538.08,269.12 538.9,271.5 C539.72,273.88 540.4,276.95 541.2,277.1 C542,277.25 542.82,274.05 543.7,272.4 C544.58,270.75 545.4,267.98 546.5,267.2 C547.6,266.42 548.93,268 550.3,267.7 C551.67,267.4 553.53,265.05 554.7,265.4 C555.87,265.75 556.42,267.62 557.3,269.8 C558.18,271.98 559.27,276.05 560,278.5 C560.73,280.95 561.07,285.67 561.7,284.5 C562.33,283.33 563.07,277.32 563.8,271.5 C564.53,265.68 565.37,252.22 566.1,249.6 C566.83,246.98 567.47,252.28 568.2,255.8 C568.93,259.32 569.53,267.5 570.5,270.7 C571.47,273.9 572.9,274.8 574,275 C575.1,275.2 576.08,272.03 577.1,271.9 C578.12,271.77 579.02,275.08 580.1,274.2 C581.18,273.32 582.67,267.33 583.6,266.6 C584.53,265.87 584.88,268.98 585.7,269.8 C586.52,270.62 587.68,273.25 588.5,271.5 C589.32,269.75 589.95,262.22 590.6,259.3 C591.25,256.38 591.73,253.13 592.4,254 C593.07,254.87 593.77,260.12 594.6,264.5 C595.43,268.88 596.58,278.4 597.4,280.3 C598.22,282.2 598.7,277.95 599.5,275.9 C600.3,273.85 601.17,269.75 602.2,268 C603.23,266.25 604.68,265.83 605.7,265.4 C606.72,264.97 607.43,265.6 608.3,265.4 C609.17,265.2 610.03,263.62 610.9,264.2 C611.77,264.78 612.62,266.65 613.5,268.9 C614.38,271.15 615.38,275.22 616.2,277.7 C617.02,280.18 617.68,284.83 618.4,283.8 C619.12,282.77 619.8,276.75 620.5,271.5 C621.2,266.25 622,255.95 622.6,252.3 C623.2,248.65 623.5,248.58 624.1,249.6 C624.7,250.62 625.48,254.75 626.2,258.4 C626.92,262.05 627.68,268.87 628.4,271.5 C629.12,274.13 629.7,274.63 630.5,274.2 C631.3,273.77 632.38,269.35 633.2,268.9 C634.02,268.45 634.73,270.33 635.4,271.5 C636.07,272.67 636.62,276.18 637.2,275.9 C637.78,275.62 638.32,271.55 638.9,269.8 C639.48,268.05 639.97,265.7 640.7,265.4 C641.43,265.1 642.52,266.98 643.3,268 C644.08,269.02 644.67,271.93 645.4,271.5 C646.13,271.07 646.93,266.98 647.7,265.4 C648.47,263.82 649.27,261.85 650,262 C650.73,262.15 651.47,264.27 652.1,266.3 C652.73,268.33 653.22,272.22 653.8,274.2 C654.38,276.18 654.87,278.2 655.6,278.2 C656.33,278.2 657.18,276.18 658.2,274.2 C659.22,272.22 660.62,267.62 661.7,266.3 C662.78,264.98 663.68,265.78 664.7,266.3 C665.72,266.82 666.83,269.25 667.8,269.4 C668.77,269.55 669.47,267.28 670.5,267.2 C671.53,267.12 673.42,268.62 674,268.9" fill="none" stroke="#3434f4" stroke-width="0.66"/><path d="M500.5,276.8 C500.73,277.32 501.37,280.2 501.9,279.9 C502.43,279.6 503.12,278.15 503.7,275 C504.28,271.85 504.82,264.27 505.4,261 C505.98,257.73 506.62,255.68 507.2,255.4 C507.78,255.12 508.23,257.2 508.9,259.3 C509.57,261.4 510.32,265.73 511.2,268 C512.08,270.27 513.42,272.37 514.2,272.9 C514.98,273.43 515.23,272.02 515.9,271.2 C516.57,270.38 517.23,267.65 518.2,268 C519.17,268.35 520.62,273.35 521.7,273.3 C522.78,273.25 523.77,268.93 524.7,267.7 C525.63,266.47 526.13,267.17 527.3,265.9 C528.47,264.63 530.53,260.62 531.7,260.1 C532.87,259.58 533.43,260.9 534.3,262.8 C535.17,264.7 536.08,269.12 536.9,271.5 C537.72,273.88 538.4,276.95 539.2,277.1 C540,277.25 540.82,274.05 541.7,272.4 C542.58,270.75 543.4,267.98 544.5,267.2 C545.6,266.42 546.93,268 548.3,267.7 C549.67,267.4 551.53,265.05 552.7,265.4 C553.87,265.75 554.42,267.62 555.3,269.8 C556.18,271.98 557.27,276.05 558,278.5 C558.73,280.95 559.07,285.67 559.7,284.5 C560.33,283.33 561.07,277.32 561.8,271.5 C562.53,265.68 563.37,252.22 564.1,249.6 C564.83,246.98 565.47,252.28 566.2,255.8 C566.93,259.32 567.53,267.5 568.5,270.7 C569.47,273.9 570.9,274.8 572,275 C573.1,275.2 574.08,272.03 575.1,271.9 C576.12,271.77 577.02,275.08 578.1,274.2 C579.18,273.32 580.67,267.33 581.6,266.6 C582.53,265.87 582.88,268.98 583.7,269.8 C584.52,270.62 585.68,273.25 586.5,271.5 C587.32,269.75 587.95,262.22 588.6,259.3 C589.25,256.38 589.73,253.13 590.4,254 C591.07,254.87 591.77,260.12 592.6,264.5 C593.43,268.88 594.58,278.4 595.4,280.3 C596.22,282.2 596.7,277.95 597.5,275.9 C598.3,273.85 599.17,269.75 600.2,268 C601.23,266.25 602.68,265.83 603.7,265.4 C604.72,264.97 605.43,265.6 606.3,265.4 C607.17,265.2 608.03,263.62 608.9,264.2 C609.77,264.78 610.62,266.65 611.5,268.9 C612.38,271.15 613.38,275.22 614.2,277.7 C615.02,280.18 615.68,284.83 616.4,283.8 C617.12,282.77 617.8,276.75 618.5,271.5 C619.2,266.25 620,255.95 620.6,252.3 C621.2,248.65 621.5,248.58 622.1,249.6 C622.7,250.62 623.48,254.75 624.2,258.4 C624.92,262.05 625.68,268.87 626.4,271.5 C627.12,274.13 627.7,274.63 628.5,274.2 C629.3,273.77 630.38,269.35 631.2,268.9 C632.02,268.45 632.73,270.33 633.4,271.5 C634.07,272.67 634.62,276.18 635.2,275.9 C635.78,275.62 636.32,271.55 636.9,269.8 C637.48,268.05 637.97,265.7 638.7,265.4 C639.43,265.1 640.52,266.98 641.3,268 C642.08,269.02 642.67,271.93 643.4,271.5 C644.13,271.07 644.93,266.98 645.7,265.4 C646.47,263.82 647.27,261.85 648,262 C648.73,262.15 649.47,264.27 650.1,266.3 C650.73,268.33 651.22,272.22 651.8,274.2 C652.38,276.18 652.87,278.2 653.6,278.2 C654.33,278.2 655.18,276.18 656.2,274.2 C657.22,272.22 658.62,267.62 659.7,266.3 C660.78,264.98 661.68,265.78 662.7,266.3 C663.72,266.82 664.83,269.25 665.8,269.4 C666.77,269.55 667.47,267.28 668.5,267.2 C669.53,267.12 671.42,268.62 672,268.9" fill="none" stroke="#f42424" stroke-width="0.66"/></g>
<rect x="622.5" y="252.1" width="52.9" height="13.1" fill="#fff" stroke="#808080" stroke-width="0.85"/>
<line x1="624.4" y1="255.5" x2="641.5" y2="255.5" stroke="#3a3af5" stroke-width="0.7"/>
<text transform="translate(642.5,257.25) scale(1,1.08)" font-size="4.55" fill="#222">Truth (Delayed)</text>
<line x1="624.4" y1="261.85" x2="641.5" y2="261.85" stroke="#f03a3a" stroke-width="0.7"/>
<text transform="translate(642.5,263.6) scale(1,1.08)" font-size="4.55" fill="#222">Prediction</text>
<g stroke="#404040" stroke-width="0.7"><line x1="27.5" y1="344.3" x2="27.5" y2="342.5"/><line x1="27.5" y1="308.4" x2="27.5" y2="310.2"/><line x1="47.39" y1="344.3" x2="47.39" y2="342.5"/><line x1="47.39" y1="308.4" x2="47.39" y2="310.2"/><line x1="67.28" y1="344.3" x2="67.28" y2="342.5"/><line x1="67.28" y1="308.4" x2="67.28" y2="310.2"/><line x1="87.17" y1="344.3" x2="87.17" y2="342.5"/><line x1="87.17" y1="308.4" x2="87.17" y2="310.2"/><line x1="107.06" y1="344.3" x2="107.06" y2="342.5"/><line x1="107.06" y1="308.4" x2="107.06" y2="310.2"/><line x1="126.94" y1="344.3" x2="126.94" y2="342.5"/><line x1="126.94" y1="308.4" x2="126.94" y2="310.2"/><line x1="146.83" y1="344.3" x2="146.83" y2="342.5"/><line x1="146.83" y1="308.4" x2="146.83" y2="310.2"/><line x1="166.72" y1="344.3" x2="166.72" y2="342.5"/><line x1="166.72" y1="308.4" x2="166.72" y2="310.2"/><line x1="186.61" y1="344.3" x2="186.61" y2="342.5"/><line x1="186.61" y1="308.4" x2="186.61" y2="310.2"/><line x1="206.5" y1="344.3" x2="206.5" y2="342.5"/><line x1="206.5" y1="308.4" x2="206.5" y2="310.2"/><line x1="27.5" y1="336.8" x2="29.3" y2="336.8"/><line x1="206.5" y1="336.8" x2="204.7" y2="336.8"/><line x1="27.5" y1="325.9" x2="29.3" y2="325.9"/><line x1="206.5" y1="325.9" x2="204.7" y2="325.9"/><line x1="27.5" y1="315.1" x2="29.3" y2="315.1"/><line x1="206.5" y1="315.1" x2="204.7" y2="315.1"/></g>
<rect x="27.5" y="308.4" width="179" height="35.9" fill="none" stroke="#7a7a7a" stroke-width="1"/>
<text transform="translate(27.5,352) scale(1,1.08)" font-size="4.85" fill="#303030" text-anchor="middle">0</text><text transform="translate(47.39,352) scale(1,1.08)" font-size="4.85" fill="#303030" text-anchor="middle">1000</text><text transform="translate(67.28,352) scale(1,1.08)" font-size="4.85" fill="#303030" text-anchor="middle">2000</text><text transform="translate(87.17,352) scale(1,1.08)" font-size="4.85" fill="#303030" text-anchor="middle">3000</text><text transform="translate(107.06,352) scale(1,1.08)" font-size="4.85" fill="#303030" text-anchor="middle">4000</text><text transform="translate(126.94,352) scale(1,1.08)" font-size="4.85" fill="#303030" text-anchor="middle">5000</text><text transform="translate(146.83,352) scale(1,1.08)" font-size="4.85" fill="#303030" text-anchor="middle">6000</text><text transform="translate(166.72,352) scale(1,1.08)" font-size="4.85" fill="#303030" text-anchor="middle">7000</text><text transform="translate(186.61,352) scale(1,1.08)" font-size="4.85" fill="#303030" text-anchor="middle">8000</text><text transform="translate(206.5,352) scale(1,1.08)" font-size="4.85" fill="#303030" text-anchor="middle">9000</text><text transform="translate(25.6,338.95) scale(1,1.08)" font-size="4.85" fill="#303030" text-anchor="end">0</text><text transform="translate(25.6,328.05) scale(1,1.08)" font-size="4.85" fill="#303030" text-anchor="end">2</text><text transform="translate(25.6,317.25) scale(1,1.08)" font-size="4.85" fill="#303030" text-anchor="end">4</text>
<g clip-path="url(#c05)"><path d="M27.36,330.91 L28.04,322.42 L28.83,321.85 L29.96,321.85 L30.75,324.11 L31.43,334.87 L31.83,336.57 L32.62,336.57 L33.02,336 L33.7,322.42 L34.49,323.55 L34.89,324.68 L35.62,324.68 L35.96,320.72 L36.42,319.59 L36.87,332.04 L37.09,337.7 L37.77,337.7 L38.23,336.57 L39.02,334.3 L39.3,335.44 L40.04,335.44 L40.49,320.72 L41.28,317.32 L41.85,319.02 L42.76,334.3 L43.15,339.4 L43.94,339.4 L44.34,335.44 L45.25,315.62 L45.7,318.45 L46.55,318.45 L46.94,316.19 L47.74,319.59 L48.64,330.91 L49.32,338.27 L50.22,338.27 L50.68,332.04 L51.47,316.19 L51.87,318.45 L52.6,318.45 L52.94,317.32 L53.74,321.85 L54.53,336.57 L54.87,339.74 L55.6,339.74 L56,334.3 L56.79,317.32 L57.7,319.59 L58.61,322.42 L59.4,322.98 L60.19,334.87 L60.65,337.7 L61.55,337.7 L62,334.3 L62.79,319.02 L63.59,321.85 L64.49,322.42 L65.4,334.3 L65.79,339.96 L66.59,339.96 L66.98,334.3 L68.11,317.32 L68.79,320.72 L69.19,322.98 L69.98,322.98 L70.38,321.85 L71.06,334.3 L71.45,337.13 L72.25,337.13 L72.64,336.57 L73.55,320.72 L74.45,318.45 L74.85,322.98 L75.64,322.98 L76.04,321.85 L76.72,334.3 L77.12,338.83 L77.91,338.83 L78.3,335.44 L79.21,320.72 L80.12,319.02 L80.51,321.85 L81.3,321.85 L81.7,317.89 L82.38,330.91 L82.78,338.83 L83.57,338.83 L83.96,335.44 L85.13,313.92 L85.59,319.59 L86.43,319.59 L86.83,316.76 L87.62,322.98 L88.08,339.4 L88.98,339.4 L89.66,338.27 L90.57,322.98 L91.36,316.76 L91.76,318.45 L92.6,318.45 L93.06,317.32 L93.96,328.64 L94.36,337.13 L95.15,337.13 L95.55,334.3 L96.45,318.45 L97.36,316.76 L98.15,322.98 L98.55,326.38 L99.28,326.38 L99.62,317.32 L100.42,332.04 L100.81,339.96 L101.66,339.96 L102.11,335.44 L103.02,317.89 L103.7,320.15 L104.55,320.15 L104.94,319.59 L105.74,332.04 L106.19,338.83 L107.09,338.83 L107.55,335.44 L108.34,318.45 L108.74,321.85 L109.58,321.85 L110.04,320.72 L110.94,322.98 L111.74,335.44 L112.42,337.13 L113.27,337.13 L113.66,322.98 L114.34,316.76 L114.74,321.85 L115.53,321.85 L115.93,320.15 L116.83,322.98 L117.74,337.7 L118.13,339.4 L118.93,339.4 L119.32,328.64 L120,312.79 L120.79,315.06 L121.59,318.45 L122.49,330.91 L123.17,339.4 L124.07,339.4 L124.53,334.3 L125.66,312.23 L126.45,317.32 L127.25,320.72 L128.15,324.11 L129.06,335.44 L129.45,337.7 L130.25,337.7 L130.64,326.38 L131.55,318.45 L132.45,321.28 L133.25,321.85 L134.04,328.64 L134.72,338.83 L135.62,338.83 L136.08,336.57 L136.98,315.06 L137.78,318.45 L138.57,319.59 L139.47,328.64 L139.93,337.13 L140.78,337.13 L141.17,335.44 L141.96,318.45 L142.91,318.45 L143.3,322.98 L144.09,322.98 L144.49,321.85 L145.4,333.17 L145.85,338.27 L146.75,338.27 L147.43,336.57 L148.23,320.72 L149.02,319.59 L149.47,320.72 L150.37,320.72 L150.83,318.45 L151.62,328.64 L152.31,338.83 L153.15,338.83 L153.55,336.57 L154.45,320.72 L155.36,318.45 L155.76,324.11 L156.43,324.11 L156.72,317.32 L157.62,326.38 L158.02,337.7 L158.81,337.7 L159.21,333.17 L160.11,317.32 L161.02,321.85 L161.42,324.11 L162.21,324.11 L162.6,322.98 L163.06,338.83 L163.96,338.83 L164.42,336.57 L165.21,318.45 L165.77,308.83 L166.34,315.06 L167.13,328.64 L168.04,329.77 L169.17,330.91 L169.85,332.04 L170.75,332.04 L171.21,322.98 L172,326.38 L172.28,343.93 L173.02,343.93 L173.47,322.98 L174.27,315.06 L175.06,324.11 L175.4,338.83 L176.13,338.83 L176.53,335.44 L177.66,320.72 L178.45,318.45 L179.36,324.11 L180.27,326.38 L180.66,338.83 L181.45,338.83 L181.85,335.44 L182.98,322.98 L183.44,324.11 L184.34,324.11 L184.79,322.98 L185.59,325.25 L186.27,336.57 L187.11,336.57 L187.51,334.3 L188.64,322.98 L189.55,321.85 L190.68,322.42 L191.59,322.98 L192.72,336.57 L193.4,339.96 L194.25,339.96 L194.64,322.98 L195.21,314.49 L196.12,316.19 L196.91,319.59 L197.7,326.38 L198.16,335.44 L199.06,335.44 L199.51,334.87" fill="none" stroke="#3089cb" stroke-width="0.65" stroke-linejoin="round"/></g>
<g stroke="#404040" stroke-width="0.7"><line x1="264" y1="344.3" x2="264" y2="342.5"/><line x1="264" y1="308.4" x2="264" y2="310.2"/><line x1="283.89" y1="344.3" x2="283.89" y2="342.5"/><line x1="283.89" y1="308.4" x2="283.89" y2="310.2"/><line x1="303.78" y1="344.3" x2="303.78" y2="342.5"/><line x1="303.78" y1="308.4" x2="303.78" y2="310.2"/><line x1="323.67" y1="344.3" x2="323.67" y2="342.5"/><line x1="323.67" y1="308.4" x2="323.67" y2="310.2"/><line x1="343.56" y1="344.3" x2="343.56" y2="342.5"/><line x1="343.56" y1="308.4" x2="343.56" y2="310.2"/><line x1="363.44" y1="344.3" x2="363.44" y2="342.5"/><line x1="363.44" y1="308.4" x2="363.44" y2="310.2"/><line x1="383.33" y1="344.3" x2="383.33" y2="342.5"/><line x1="383.33" y1="308.4" x2="383.33" y2="310.2"/><line x1="403.22" y1="344.3" x2="403.22" y2="342.5"/><line x1="403.22" y1="308.4" x2="403.22" y2="310.2"/><line x1="423.11" y1="344.3" x2="423.11" y2="342.5"/><line x1="423.11" y1="308.4" x2="423.11" y2="310.2"/><line x1="443" y1="344.3" x2="443" y2="342.5"/><line x1="443" y1="308.4" x2="443" y2="310.2"/><line x1="264" y1="337.3" x2="265.8" y2="337.3"/><line x1="443" y1="337.3" x2="441.2" y2="337.3"/><line x1="264" y1="323.6" x2="265.8" y2="323.6"/><line x1="443" y1="323.6" x2="441.2" y2="323.6"/><line x1="264" y1="309.8" x2="265.8" y2="309.8"/><line x1="443" y1="309.8" x2="441.2" y2="309.8"/></g>
<rect x="264" y="308.4" width="179" height="35.9" fill="none" stroke="#7a7a7a" stroke-width="1"/>
<text transform="translate(264,352) scale(1,1.08)" font-size="4.85" fill="#303030" text-anchor="middle">0</text><text transform="translate(283.89,352) scale(1,1.08)" font-size="4.85" fill="#303030" text-anchor="middle">100</text><text transform="translate(303.78,352) scale(1,1.08)" font-size="4.85" fill="#303030" text-anchor="middle">200</text><text transform="translate(323.67,352) scale(1,1.08)" font-size="4.85" fill="#303030" text-anchor="middle">300</text><text transform="translate(343.56,352) scale(1,1.08)" font-size="4.85" fill="#303030" text-anchor="middle">400</text><text transform="translate(363.44,352) scale(1,1.08)" font-size="4.85" fill="#303030" text-anchor="middle">500</text><text transform="translate(383.33,352) scale(1,1.08)" font-size="4.85" fill="#303030" text-anchor="middle">600</text><text transform="translate(403.22,352) scale(1,1.08)" font-size="4.85" fill="#303030" text-anchor="middle">700</text><text transform="translate(423.11,352) scale(1,1.08)" font-size="4.85" fill="#303030" text-anchor="middle">800</text><text transform="translate(443,352) scale(1,1.08)" font-size="4.85" fill="#303030" text-anchor="middle">900</text><text transform="translate(262.1,339.45) scale(1,1.08)" font-size="4.85" fill="#303030" text-anchor="end">0</text><text transform="translate(262.1,325.75) scale(1,1.08)" font-size="4.85" fill="#303030" text-anchor="end">2</text><text transform="translate(262.1,311.95) scale(1,1.08)" font-size="4.85" fill="#303030" text-anchor="end">4</text>
<g clip-path="url(#c15)"><path d="M264,336.8 C264.32,336.37 265.23,335.8 265.9,334.2 C266.57,332.6 267.3,329.53 268,327.2 C268.7,324.87 269.52,321.58 270.1,320.2 C270.68,318.82 270.82,318.77 271.5,318.9 C272.18,319.03 273.32,320.07 274.2,321 C275.08,321.93 276.02,323.62 276.8,324.5 C277.58,325.38 278.08,326.15 278.9,326.3 C279.72,326.45 280.83,325.4 281.7,325.4 C282.57,325.4 283.32,326.58 284.1,326.3 C284.88,326.02 285.57,324.58 286.4,323.7 C287.23,322.82 288.07,321.58 289.1,321 C290.13,320.42 291.5,319.9 292.6,320.2 C293.7,320.5 294.75,321.63 295.7,322.8 C296.65,323.97 297.42,325.17 298.3,327.2 C299.18,329.23 300.07,333.25 301,335 C301.93,336.75 302.83,337.25 303.9,337.7 C304.97,338.15 306.08,337.57 307.4,337.7 C308.72,337.83 310.18,338.57 311.8,338.5 C313.42,338.43 315.35,337.43 317.1,337.3 C318.85,337.17 321.13,338.67 322.3,337.7 C323.47,336.73 323.45,334.28 324.1,331.5 C324.75,328.72 325.57,323.33 326.2,321 C326.83,318.67 327.08,317.63 327.9,317.5 C328.72,317.37 329.83,319.47 331.1,320.2 C332.37,320.93 334.18,321.62 335.5,321.9 C336.82,322.18 337.98,321.67 339,321.9 C340.02,322.13 340.43,323.73 341.6,323.3 C342.77,322.87 344.67,319.73 346,319.3 C347.33,318.87 348.35,320.88 349.6,320.7 C350.85,320.52 352.47,317.42 353.5,318.2 C354.53,318.98 354.98,322.73 355.8,325.4 C356.62,328.07 357.38,332.02 358.4,334.2 C359.42,336.38 360.73,337.63 361.9,338.5 C363.07,339.37 364.23,339.15 365.4,339.4 C366.57,339.65 367.73,339.55 368.9,340 C370.07,340.45 371.23,341.35 372.4,342.1 C373.57,342.85 375.02,344.22 375.9,344.5 C376.78,344.78 376.97,345.38 377.7,343.8 C378.43,342.22 379.43,339.08 380.3,335 C381.17,330.92 382.08,323.62 382.9,319.3 C383.72,314.98 384.52,310.85 385.2,309.1 C385.88,307.35 386.22,308.42 387,308.8 C387.78,309.18 388.83,310.68 389.9,311.4 C390.97,312.12 392.37,312.67 393.4,313.1 C394.43,313.53 395,313.68 396.1,314 C397.2,314.32 398.52,314.5 400,315 C401.48,315.5 403.5,316 405,317 C406.5,318 407.8,319.6 409,321 C410.2,322.4 411.28,323.5 412.2,325.4 C413.12,327.3 413.68,330.15 414.5,332.4 C415.32,334.65 416.08,337.58 417.1,338.9 C418.12,340.22 419.43,340.3 420.6,340.3 C421.77,340.3 422.93,339.43 424.1,338.9 C425.27,338.37 426.43,337.6 427.6,337.1 C428.77,336.6 429.78,336.18 431.1,335.9 C432.42,335.62 434.77,335.48 435.5,335.4" fill="none" stroke="#8080ff" stroke-width="0.3" opacity="0.6"/><path d="M264,336.8 C264.32,336.37 265.23,335.8 265.9,334.2 C266.57,332.6 267.3,329.53 268,327.2 C268.7,324.87 269.52,321.58 270.1,320.2 C270.68,318.82 270.82,318.77 271.5,318.9 C272.18,319.03 273.32,320.07 274.2,321 C275.08,321.93 276.02,323.62 276.8,324.5 C277.58,325.38 278.08,326.15 278.9,326.3 C279.72,326.45 280.83,325.4 281.7,325.4 C282.57,325.4 283.32,326.58 284.1,326.3 C284.88,326.02 285.57,324.58 286.4,323.7 C287.23,322.82 288.07,321.58 289.1,321 C290.13,320.42 291.5,319.9 292.6,320.2 C293.7,320.5 294.75,321.63 295.7,322.8 C296.65,323.97 297.42,325.17 298.3,327.2 C299.18,329.23 300.07,333.25 301,335 C301.93,336.75 302.83,337.25 303.9,337.7 C304.97,338.15 306.08,337.57 307.4,337.7 C308.72,337.83 310.18,338.57 311.8,338.5 C313.42,338.43 315.35,337.43 317.1,337.3 C318.85,337.17 321.13,338.67 322.3,337.7 C323.47,336.73 323.45,334.28 324.1,331.5 C324.75,328.72 325.57,323.33 326.2,321 C326.83,318.67 327.08,317.63 327.9,317.5 C328.72,317.37 329.83,319.47 331.1,320.2 C332.37,320.93 334.18,321.62 335.5,321.9 C336.82,322.18 337.98,321.67 339,321.9 C340.02,322.13 340.43,323.73 341.6,323.3 C342.77,322.87 344.67,319.73 346,319.3 C347.33,318.87 348.35,320.88 349.6,320.7 C350.85,320.52 352.47,317.42 353.5,318.2 C354.53,318.98 354.98,322.73 355.8,325.4 C356.62,328.07 357.38,332.02 358.4,334.2 C359.42,336.38 360.73,337.63 361.9,338.5 C363.07,339.37 364.23,339.15 365.4,339.4 C366.57,339.65 367.73,339.55 368.9,340 C370.07,340.45 371.23,341.35 372.4,342.1 C373.57,342.85 375.02,344.22 375.9,344.5 C376.78,344.78 376.97,345.38 377.7,343.8 C378.43,342.22 379.43,339.08 380.3,335 C381.17,330.92 382.08,323.62 382.9,319.3 C383.72,314.98 384.52,310.85 385.2,309.1 C385.88,307.35 386.22,308.42 387,308.8 C387.78,309.18 388.83,310.68 389.9,311.4 C390.97,312.12 392.37,312.67 393.4,313.1 C394.43,313.53 395,313.68 396.1,314 C397.2,314.32 398.52,314.5 400,315 C401.48,315.5 403.5,316 405,317 C406.5,318 407.8,319.6 409,321 C410.2,322.4 411.28,323.5 412.2,325.4 C413.12,327.3 413.68,330.15 414.5,332.4 C415.32,334.65 416.08,337.58 417.1,338.9 C418.12,340.22 419.43,340.3 420.6,340.3 C421.77,340.3 422.93,339.43 424.1,338.9 C425.27,338.37 426.43,337.6 427.6,337.1 C428.77,336.6 429.78,336.18 431.1,335.9 C432.42,335.62 434.77,335.48 435.5,335.4" fill="none" stroke="#f42424" stroke-width="0.7"/></g>
<rect x="396.1" y="311.4" width="42.3" height="13.1" fill="#fff" stroke="#808080" stroke-width="0.85"/>
<line x1="398" y1="314.8" x2="415.1" y2="314.8" stroke="#3a3af5" stroke-width="0.7"/>
<text transform="translate(416.1,316.55) scale(1,1.08)" font-size="4.55" fill="#222">Truth</text>
<line x1="398" y1="321.15" x2="415.1" y2="321.15" stroke="#f03a3a" stroke-width="0.7"/>
<text transform="translate(416.1,322.9) scale(1,1.08)" font-size="4.55" fill="#222">Prediction</text>
<g stroke="#404040" stroke-width="0.7"><line x1="500.5" y1="344.3" x2="500.5" y2="342.5"/><line x1="500.5" y1="308.4" x2="500.5" y2="310.2"/><line x1="520.44" y1="344.3" x2="520.44" y2="342.5"/><line x1="520.44" y1="308.4" x2="520.44" y2="310.2"/><line x1="540.39" y1="344.3" x2="540.39" y2="342.5"/><line x1="540.39" y1="308.4" x2="540.39" y2="310.2"/><line x1="560.33" y1="344.3" x2="560.33" y2="342.5"/><line x1="560.33" y1="308.4" x2="560.33" y2="310.2"/><line x1="580.28" y1="344.3" x2="580.28" y2="342.5"/><line x1="580.28" y1="308.4" x2="580.28" y2="310.2"/><line x1="600.22" y1="344.3" x2="600.22" y2="342.5"/><line x1="600.22" y1="308.4" x2="600.22" y2="310.2"/><line x1="620.17" y1="344.3" x2="620.17" y2="342.5"/><line x1="620.17" y1="308.4" x2="620.17" y2="310.2"/><line x1="640.11" y1="344.3" x2="640.11" y2="342.5"/><line x1="640.11" y1="308.4" x2="640.11" y2="310.2"/><line x1="660.06" y1="344.3" x2="660.06" y2="342.5"/><line x1="660.06" y1="308.4" x2="660.06" y2="310.2"/><line x1="680" y1="344.3" x2="680" y2="342.5"/><line x1="680" y1="308.4" x2="680" y2="310.2"/><line x1="500.5" y1="337.3" x2="502.3" y2="337.3"/><line x1="680" y1="337.3" x2="678.2" y2="337.3"/><line x1="500.5" y1="323.6" x2="502.3" y2="323.6"/><line x1="680" y1="323.6" x2="678.2" y2="323.6"/><line x1="500.5" y1="309.8" x2="502.3" y2="309.8"/><line x1="680" y1="309.8" x2="678.2" y2="309.8"/></g>
<rect x="500.5" y="308.4" width="179.5" height="35.9" fill="none" stroke="#7a7a7a" stroke-width="1"/>
<text transform="translate(500.5,352) scale(1,1.08)" font-size="4.85" fill="#303030" text-anchor="middle">0</text><text transform="translate(520.44,352) scale(1,1.08)" font-size="4.85" fill="#303030" text-anchor="middle">100</text><text transform="translate(540.39,352) scale(1,1.08)" font-size="4.85" fill="#303030" text-anchor="middle">200</text><text transform="translate(560.33,352) scale(1,1.08)" font-size="4.85" fill="#303030" text-anchor="middle">300</text><text transform="translate(580.28,352) scale(1,1.08)" font-size="4.85" fill="#303030" text-anchor="middle">400</text><text transform="translate(600.22,352) scale(1,1.08)" font-size="4.85" fill="#303030" text-anchor="middle">500</text><text transform="translate(620.17,352) scale(1,1.08)" font-size="4.85" fill="#303030" text-anchor="middle">600</text><text transform="translate(640.11,352) scale(1,1.08)" font-size="4.85" fill="#303030" text-anchor="middle">700</text><text transform="translate(660.06,352) scale(1,1.08)" font-size="4.85" fill="#303030" text-anchor="middle">800</text><text transform="translate(680,352) scale(1,1.08)" font-size="4.85" fill="#303030" text-anchor="middle">900</text><text transform="translate(498.6,339.45) scale(1,1.08)" font-size="4.85" fill="#303030" text-anchor="end">0</text><text transform="translate(498.6,325.75) scale(1,1.08)" font-size="4.85" fill="#303030" text-anchor="end">2</text><text transform="translate(498.6,311.95) scale(1,1.08)" font-size="4.85" fill="#303030" text-anchor="end">4</text>
<g clip-path="url(#c25)"><path d="M502.5,336.8 C502.82,336.37 503.73,335.8 504.4,334.2 C505.07,332.6 505.8,329.53 506.5,327.2 C507.2,324.87 508.02,321.58 508.6,320.2 C509.18,318.82 509.32,318.77 510,318.9 C510.68,319.03 511.82,320.07 512.7,321 C513.58,321.93 514.52,323.62 515.3,324.5 C516.08,325.38 516.58,326.15 517.4,326.3 C518.22,326.45 519.33,325.4 520.2,325.4 C521.07,325.4 521.82,326.58 522.6,326.3 C523.38,326.02 524.07,324.58 524.9,323.7 C525.73,322.82 526.57,321.58 527.6,321 C528.63,320.42 530,319.9 531.1,320.2 C532.2,320.5 533.25,321.63 534.2,322.8 C535.15,323.97 535.92,325.17 536.8,327.2 C537.68,329.23 538.57,333.25 539.5,335 C540.43,336.75 541.33,337.25 542.4,337.7 C543.47,338.15 544.58,337.57 545.9,337.7 C547.22,337.83 548.68,338.57 550.3,338.5 C551.92,338.43 553.85,337.43 555.6,337.3 C557.35,337.17 559.63,338.67 560.8,337.7 C561.97,336.73 561.95,334.28 562.6,331.5 C563.25,328.72 564.07,323.33 564.7,321 C565.33,318.67 565.58,317.63 566.4,317.5 C567.22,317.37 568.33,319.47 569.6,320.2 C570.87,320.93 572.68,321.62 574,321.9 C575.32,322.18 576.48,321.67 577.5,321.9 C578.52,322.13 578.93,323.73 580.1,323.3 C581.27,322.87 583.17,319.73 584.5,319.3 C585.83,318.87 586.85,320.88 588.1,320.7 C589.35,320.52 590.97,317.42 592,318.2 C593.03,318.98 593.48,322.73 594.3,325.4 C595.12,328.07 595.88,332.02 596.9,334.2 C597.92,336.38 599.23,337.63 600.4,338.5 C601.57,339.37 602.73,339.15 603.9,339.4 C605.07,339.65 606.23,339.55 607.4,340 C608.57,340.45 609.73,341.35 610.9,342.1 C612.07,342.85 613.52,344.22 614.4,344.5 C615.28,344.78 615.47,345.38 616.2,343.8 C616.93,342.22 617.93,339.08 618.8,335 C619.67,330.92 620.58,323.62 621.4,319.3 C622.22,314.98 623.02,310.85 623.7,309.1 C624.38,307.35 624.72,308.42 625.5,308.8 C626.28,309.18 627.33,310.68 628.4,311.4 C629.47,312.12 630.87,312.67 631.9,313.1 C632.93,313.53 633.5,313.68 634.6,314 C635.7,314.32 637.02,314.5 638.5,315 C639.98,315.5 642,316 643.5,317 C645,318 646.3,319.6 647.5,321 C648.7,322.4 649.78,323.5 650.7,325.4 C651.62,327.3 652.18,330.15 653,332.4 C653.82,334.65 654.58,337.58 655.6,338.9 C656.62,340.22 657.93,340.3 659.1,340.3 C660.27,340.3 661.43,339.43 662.6,338.9 C663.77,338.37 664.93,337.6 666.1,337.1 C667.27,336.6 668.28,336.18 669.6,335.9 C670.92,335.62 673.27,335.48 674,335.4" fill="none" stroke="#3434f4" stroke-width="0.66"/><path d="M500.5,336.8 C500.82,336.37 501.73,335.8 502.4,334.2 C503.07,332.6 503.8,329.53 504.5,327.2 C505.2,324.87 506.02,321.58 506.6,320.2 C507.18,318.82 507.32,318.77 508,318.9 C508.68,319.03 509.82,320.07 510.7,321 C511.58,321.93 512.52,323.62 513.3,324.5 C514.08,325.38 514.58,326.15 515.4,326.3 C516.22,326.45 517.33,325.4 518.2,325.4 C519.07,325.4 519.82,326.58 520.6,326.3 C521.38,326.02 522.07,324.58 522.9,323.7 C523.73,322.82 524.57,321.58 525.6,321 C526.63,320.42 528,319.9 529.1,320.2 C530.2,320.5 531.25,321.63 532.2,322.8 C533.15,323.97 533.92,325.17 534.8,327.2 C535.68,329.23 536.57,333.25 537.5,335 C538.43,336.75 539.33,337.25 540.4,337.7 C541.47,338.15 542.58,337.57 543.9,337.7 C545.22,337.83 546.68,338.57 548.3,338.5 C549.92,338.43 551.85,337.43 553.6,337.3 C555.35,337.17 557.63,338.67 558.8,337.7 C559.97,336.73 559.95,334.28 560.6,331.5 C561.25,328.72 562.07,323.33 562.7,321 C563.33,318.67 563.58,317.63 564.4,317.5 C565.22,317.37 566.33,319.47 567.6,320.2 C568.87,320.93 570.68,321.62 572,321.9 C573.32,322.18 574.48,321.67 575.5,321.9 C576.52,322.13 576.93,323.73 578.1,323.3 C579.27,322.87 581.17,319.73 582.5,319.3 C583.83,318.87 584.85,320.88 586.1,320.7 C587.35,320.52 588.97,317.42 590,318.2 C591.03,318.98 591.48,322.73 592.3,325.4 C593.12,328.07 593.88,332.02 594.9,334.2 C595.92,336.38 597.23,337.63 598.4,338.5 C599.57,339.37 600.73,339.15 601.9,339.4 C603.07,339.65 604.23,339.55 605.4,340 C606.57,340.45 607.73,341.35 608.9,342.1 C610.07,342.85 611.52,344.22 612.4,344.5 C613.28,344.78 613.47,345.38 614.2,343.8 C614.93,342.22 615.93,339.08 616.8,335 C617.67,330.92 618.58,323.62 619.4,319.3 C620.22,314.98 621.02,310.85 621.7,309.1 C622.38,307.35 622.72,308.42 623.5,308.8 C624.28,309.18 625.33,310.68 626.4,311.4 C627.47,312.12 628.87,312.67 629.9,313.1 C630.93,313.53 631.5,313.68 632.6,314 C633.7,314.32 635.02,314.5 636.5,315 C637.98,315.5 640,316 641.5,317 C643,318 644.3,319.6 645.5,321 C646.7,322.4 647.78,323.5 648.7,325.4 C649.62,327.3 650.18,330.15 651,332.4 C651.82,334.65 652.58,337.58 653.6,338.9 C654.62,340.22 655.93,340.3 657.1,340.3 C658.27,340.3 659.43,339.43 660.6,338.9 C661.77,338.37 662.93,337.6 664.1,337.1 C665.27,336.6 666.28,336.18 667.6,335.9 C668.92,335.62 671.27,335.48 672,335.4" fill="none" stroke="#f42424" stroke-width="0.66"/></g>
<rect x="622.5" y="311.4" width="52.9" height="13.1" fill="#fff" stroke="#808080" stroke-width="0.85"/>
<line x1="624.4" y1="314.8" x2="641.5" y2="314.8" stroke="#3a3af5" stroke-width="0.7"/>
<text transform="translate(642.5,316.55) scale(1,1.08)" font-size="4.55" fill="#222">Truth (Delayed)</text>
<line x1="624.4" y1="321.15" x2="641.5" y2="321.15" stroke="#f03a3a" stroke-width="0.7"/>
<text transform="translate(642.5,322.9) scale(1,1.08)" font-size="4.55" fill="#222">Prediction</text>
<text transform="translate(117,8.05) scale(1,1.08)" font-size="8.05" fill="#151515" text-anchor="middle" stroke="#151515" stroke-width="0.18">IMF1</text>
<text transform="translate(117,66.9) scale(1,1.08)" font-size="8.05" fill="#151515" text-anchor="middle" stroke="#151515" stroke-width="0.18">IMF2</text>
<text transform="translate(117,126) scale(1,1.08)" font-size="8.05" fill="#151515" text-anchor="middle" stroke="#151515" stroke-width="0.18">IMF3</text>
<text transform="translate(117,185.5) scale(1,1.08)" font-size="8.05" fill="#151515" text-anchor="middle" stroke="#151515" stroke-width="0.18">IMF4</text>
<text transform="translate(117,245.3) scale(1,1.08)" font-size="8.05" fill="#151515" text-anchor="middle" stroke="#151515" stroke-width="0.18">IMF5</text>
<text transform="translate(117,305) scale(1,1.08)" font-size="8.05" fill="#151515" text-anchor="middle" stroke="#151515" stroke-width="0.18">saw data</text>
<text transform="translate(353.5,7.05) scale(1,1.08)" font-size="8.05" fill="#151515" text-anchor="middle" stroke="#151515" stroke-width="0.18">Prediction</text>
<text transform="translate(590.25,7.05) scale(1,1.08)" font-size="8.05" fill="#151515" text-anchor="middle" stroke="#151515" stroke-width="0.18">Delayed Truth</text>
<text transform="translate(9.1,171.45) rotate(-90) scale(1.04,1)" text-anchor="middle" font-size="10" fill="#1a1a1a" stroke="#1a1a1a" stroke-width="0.15">water demand value(m<tspan font-size="6" dy="-3.6">3</tspan><tspan dy="3.6">)</tspan></text>
</svg>
</body></html>
